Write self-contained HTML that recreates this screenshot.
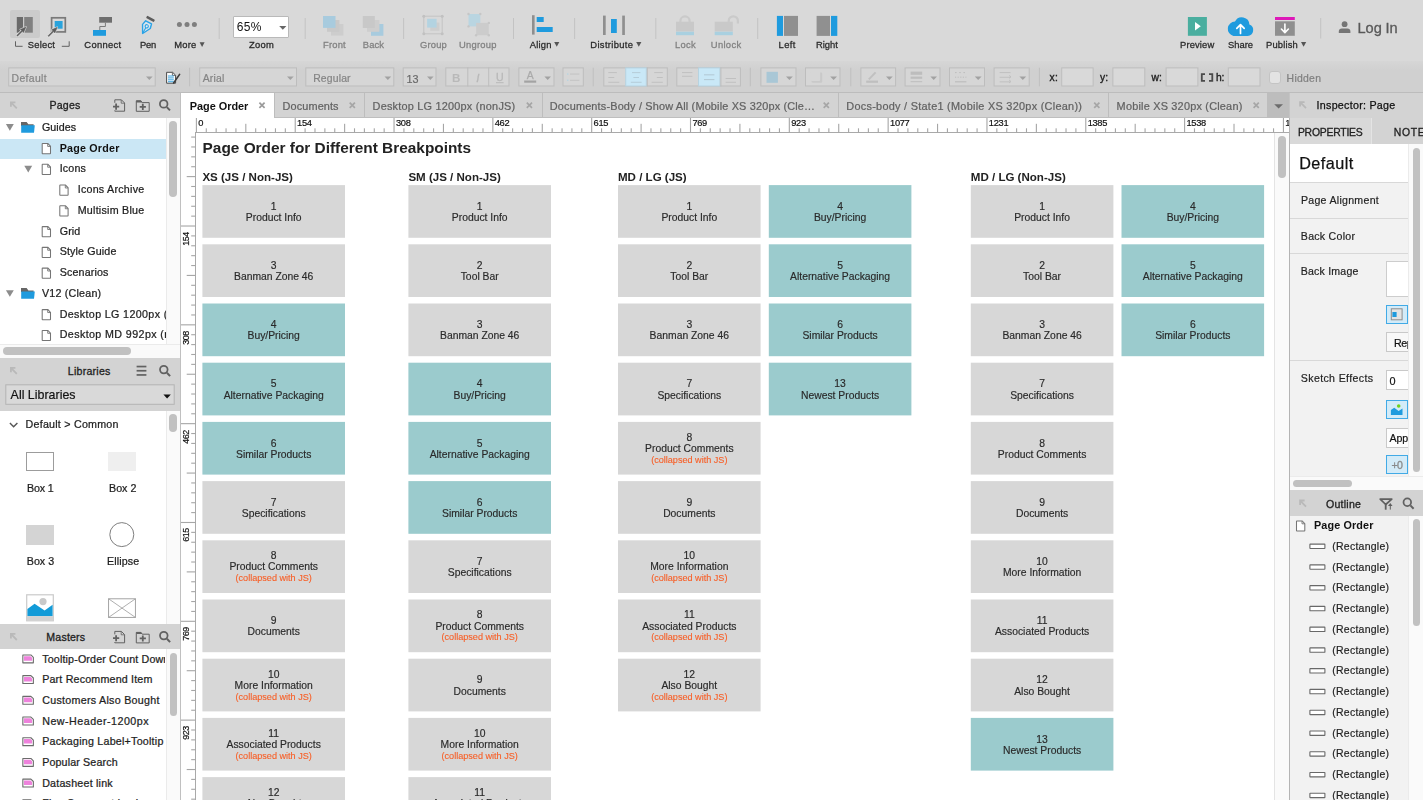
<!DOCTYPE html>
<html><head><meta charset="utf-8"><title>Axure RP</title>
<style>
html,body{margin:0;padding:0;}
body{filter:blur(0.4px);width:1423px;height:800px;overflow:hidden;background:#fff;font-family:"Liberation Sans",sans-serif;position:relative;}
#app{position:absolute;left:0;top:0;width:1423px;height:800px;overflow:hidden;}
#app div{position:absolute;box-sizing:border-box;}
#ov{position:absolute;left:0;top:0;width:1423px;height:800px;pointer-events:none;}
</style></head><body>
<div id="app">
<div style="left:0.00px;top:0.00px;width:1423.00px;height:62.00px;background:#d9d9d9;"></div>
<div style="left:0.00px;top:61.00px;width:1423.00px;height:31.50px;background:#d1d1d1;background:linear-gradient(#d6d6d6,#d0d0d0 30%,#d0d0d0);"></div>
<div style="left:0.00px;top:92.00px;width:1423.00px;height:1.00px;background:#bcbcbc;"></div>
<div style="left:0.00px;top:93.00px;width:1423.00px;height:24.50px;background:#d3d3d3;"></div>
<div style="left:0.00px;top:117.50px;width:180.00px;height:682.50px;background:#fff;"></div>
<div style="left:180.00px;top:93.00px;width:1.00px;height:707.00px;background:#c0c0c0;"></div>
<div style="left:1290.50px;top:117.50px;width:133.00px;height:682.50px;background:#f1f1f1;"></div>
<div style="left:181.00px;top:117.50px;width:1108.50px;height:682.50px;background:#fff;"></div>
<div style="left:196.00px;top:132.30px;width:1093.50px;height:0.90px;background:#a9a9a9;"></div>
<div style="left:195.00px;top:132.30px;width:1.00px;height:667.70px;background:#a9a9a9;"></div>
<div style="top:112.60px;height:20px;line-height:20px;font-size:9.3px;color:#111;white-space:pre;left:198.30px;letter-spacing:-0.32px;-webkit-text-stroke:0.2px #111;">0</div>
<div style="top:112.60px;height:20px;line-height:20px;font-size:9.3px;color:#111;white-space:pre;left:297.12px;letter-spacing:-0.32px;-webkit-text-stroke:0.2px #111;">154</div>
<div style="top:112.60px;height:20px;line-height:20px;font-size:9.3px;color:#111;white-space:pre;left:395.94px;letter-spacing:-0.32px;-webkit-text-stroke:0.2px #111;">308</div>
<div style="top:112.60px;height:20px;line-height:20px;font-size:9.3px;color:#111;white-space:pre;left:494.76px;letter-spacing:-0.32px;-webkit-text-stroke:0.2px #111;">462</div>
<div style="top:112.60px;height:20px;line-height:20px;font-size:9.3px;color:#111;white-space:pre;left:593.58px;letter-spacing:-0.32px;-webkit-text-stroke:0.2px #111;">615</div>
<div style="top:112.60px;height:20px;line-height:20px;font-size:9.3px;color:#111;white-space:pre;left:692.40px;letter-spacing:-0.32px;-webkit-text-stroke:0.2px #111;">769</div>
<div style="top:112.60px;height:20px;line-height:20px;font-size:9.3px;color:#111;white-space:pre;left:791.22px;letter-spacing:-0.32px;-webkit-text-stroke:0.2px #111;">923</div>
<div style="top:112.60px;height:20px;line-height:20px;font-size:9.3px;color:#111;white-space:pre;left:890.04px;letter-spacing:-0.32px;-webkit-text-stroke:0.2px #111;">1077</div>
<div style="top:112.60px;height:20px;line-height:20px;font-size:9.3px;color:#111;white-space:pre;left:988.86px;letter-spacing:-0.32px;-webkit-text-stroke:0.2px #111;">1231</div>
<div style="top:112.60px;height:20px;line-height:20px;font-size:9.3px;color:#111;white-space:pre;left:1087.68px;letter-spacing:-0.32px;-webkit-text-stroke:0.2px #111;">1385</div>
<div style="top:112.60px;height:20px;line-height:20px;font-size:9.3px;color:#111;white-space:pre;left:1186.50px;letter-spacing:-0.32px;-webkit-text-stroke:0.2px #111;">1538</div>
<div style="top:112.60px;height:20px;line-height:20px;font-size:9.3px;color:#111;white-space:pre;left:1285.32px;letter-spacing:-0.32px;-webkit-text-stroke:0.2px #111;">1</div>
<div style="left:165.70px;top:228.88px;width:40px;height:20px;line-height:20px;text-align:center;font-size:9.0px;letter-spacing:-0.5px;-webkit-text-stroke:0.2px #111;color:#111;transform:rotate(-90deg);white-space:pre;">154</div>
<div style="left:165.70px;top:327.70px;width:40px;height:20px;line-height:20px;text-align:center;font-size:9.0px;letter-spacing:-0.5px;-webkit-text-stroke:0.2px #111;color:#111;transform:rotate(-90deg);white-space:pre;">308</div>
<div style="left:165.70px;top:426.52px;width:40px;height:20px;line-height:20px;text-align:center;font-size:9.0px;letter-spacing:-0.5px;-webkit-text-stroke:0.2px #111;color:#111;transform:rotate(-90deg);white-space:pre;">462</div>
<div style="left:165.70px;top:525.34px;width:40px;height:20px;line-height:20px;text-align:center;font-size:9.0px;letter-spacing:-0.5px;-webkit-text-stroke:0.2px #111;color:#111;transform:rotate(-90deg);white-space:pre;">615</div>
<div style="left:165.70px;top:624.16px;width:40px;height:20px;line-height:20px;text-align:center;font-size:9.0px;letter-spacing:-0.5px;-webkit-text-stroke:0.2px #111;color:#111;transform:rotate(-90deg);white-space:pre;">769</div>
<div style="left:165.70px;top:722.98px;width:40px;height:20px;line-height:20px;text-align:center;font-size:9.0px;letter-spacing:-0.5px;-webkit-text-stroke:0.2px #111;color:#111;transform:rotate(-90deg);white-space:pre;">923</div>
<div style="top:138.00px;height:20px;line-height:20px;font-size:15.4px;color:#222;white-space:pre;letter-spacing:-0.003px;font-weight:bold;left:202.60px;">Page Order for Different Breakpoints</div>
<div style="top:167.20px;height:20px;line-height:20px;font-size:11.55px;color:#222;white-space:pre;font-weight:bold;left:202.40px;">XS (JS / Non-JS)</div>
<div style="top:167.20px;height:20px;line-height:20px;font-size:11.55px;color:#222;white-space:pre;font-weight:bold;left:408.40px;">SM (JS / Non-JS)</div>
<div style="top:167.20px;height:20px;line-height:20px;font-size:11.55px;color:#222;white-space:pre;font-weight:bold;left:618.00px;">MD / LG (JS)</div>
<div style="top:167.20px;height:20px;line-height:20px;font-size:11.55px;color:#222;white-space:pre;font-weight:bold;left:970.80px;">MD / LG (Non-JS)</div>
<svg style="position:absolute;left:0;top:0" width="1423" height="800" viewBox="0 0 1423 800"><rect x="202.40" y="185.10" width="142.6" height="52.7" fill="#d7d7d7"/><rect x="202.40" y="244.30" width="142.6" height="52.7" fill="#d7d7d7"/><rect x="202.40" y="303.50" width="142.6" height="52.7" fill="#9bcbcd"/><rect x="202.40" y="362.70" width="142.6" height="52.7" fill="#9bcbcd"/><rect x="202.40" y="421.90" width="142.6" height="52.7" fill="#9bcbcd"/><rect x="202.40" y="481.10" width="142.6" height="52.7" fill="#d7d7d7"/><rect x="202.40" y="540.30" width="142.6" height="52.7" fill="#d7d7d7"/><rect x="202.40" y="599.50" width="142.6" height="52.7" fill="#d7d7d7"/><rect x="202.40" y="658.70" width="142.6" height="52.7" fill="#d7d7d7"/><rect x="202.40" y="717.90" width="142.6" height="52.7" fill="#d7d7d7"/><rect x="202.40" y="777.10" width="142.6" height="52.7" fill="#d7d7d7"/><rect x="408.40" y="185.10" width="142.6" height="52.7" fill="#d7d7d7"/><rect x="408.40" y="244.30" width="142.6" height="52.7" fill="#d7d7d7"/><rect x="408.40" y="303.50" width="142.6" height="52.7" fill="#d7d7d7"/><rect x="408.40" y="362.70" width="142.6" height="52.7" fill="#9bcbcd"/><rect x="408.40" y="421.90" width="142.6" height="52.7" fill="#9bcbcd"/><rect x="408.40" y="481.10" width="142.6" height="52.7" fill="#9bcbcd"/><rect x="408.40" y="540.30" width="142.6" height="52.7" fill="#d7d7d7"/><rect x="408.40" y="599.50" width="142.6" height="52.7" fill="#d7d7d7"/><rect x="408.40" y="658.70" width="142.6" height="52.7" fill="#d7d7d7"/><rect x="408.40" y="717.90" width="142.6" height="52.7" fill="#d7d7d7"/><rect x="408.40" y="777.10" width="142.6" height="52.7" fill="#d7d7d7"/><rect x="618.00" y="185.10" width="142.6" height="52.7" fill="#d7d7d7"/><rect x="618.00" y="244.30" width="142.6" height="52.7" fill="#d7d7d7"/><rect x="618.00" y="303.50" width="142.6" height="52.7" fill="#d7d7d7"/><rect x="618.00" y="362.70" width="142.6" height="52.7" fill="#d7d7d7"/><rect x="618.00" y="421.90" width="142.6" height="52.7" fill="#d7d7d7"/><rect x="618.00" y="481.10" width="142.6" height="52.7" fill="#d7d7d7"/><rect x="618.00" y="540.30" width="142.6" height="52.7" fill="#d7d7d7"/><rect x="618.00" y="599.50" width="142.6" height="52.7" fill="#d7d7d7"/><rect x="618.00" y="658.70" width="142.6" height="52.7" fill="#d7d7d7"/><rect x="768.80" y="185.10" width="142.6" height="52.7" fill="#9bcbcd"/><rect x="768.80" y="244.30" width="142.6" height="52.7" fill="#9bcbcd"/><rect x="768.80" y="303.50" width="142.6" height="52.7" fill="#9bcbcd"/><rect x="768.80" y="362.70" width="142.6" height="52.7" fill="#9bcbcd"/><rect x="970.80" y="185.10" width="142.6" height="52.7" fill="#d7d7d7"/><rect x="970.80" y="244.30" width="142.6" height="52.7" fill="#d7d7d7"/><rect x="970.80" y="303.50" width="142.6" height="52.7" fill="#d7d7d7"/><rect x="970.80" y="362.70" width="142.6" height="52.7" fill="#d7d7d7"/><rect x="970.80" y="421.90" width="142.6" height="52.7" fill="#d7d7d7"/><rect x="970.80" y="481.10" width="142.6" height="52.7" fill="#d7d7d7"/><rect x="970.80" y="540.30" width="142.6" height="52.7" fill="#d7d7d7"/><rect x="970.80" y="599.50" width="142.6" height="52.7" fill="#d7d7d7"/><rect x="970.80" y="658.70" width="142.6" height="52.7" fill="#d7d7d7"/><rect x="970.80" y="717.90" width="142.6" height="52.7" fill="#9bcbcd"/><rect x="1121.50" y="185.10" width="142.6" height="52.7" fill="#9bcbcd"/><rect x="1121.50" y="244.30" width="142.6" height="52.7" fill="#9bcbcd"/><rect x="1121.50" y="303.50" width="142.6" height="52.7" fill="#9bcbcd"/></svg>
<div style="top:196.85px;height:20px;line-height:20px;font-size:10.35px;color:#2a2a2a;white-space:pre;left:123.70px;width:300px;text-align:center;-webkit-text-stroke:0.16px #2a2a2a;">1</div>
<div style="top:208.05px;height:20px;line-height:20px;font-size:10.35px;color:#2a2a2a;white-space:pre;left:123.70px;width:300px;text-align:center;-webkit-text-stroke:0.16px #2a2a2a;">Product Info</div>
<div style="top:256.05px;height:20px;line-height:20px;font-size:10.35px;color:#2a2a2a;white-space:pre;left:123.70px;width:300px;text-align:center;-webkit-text-stroke:0.16px #2a2a2a;">3</div>
<div style="top:267.25px;height:20px;line-height:20px;font-size:10.35px;color:#2a2a2a;white-space:pre;left:123.70px;width:300px;text-align:center;-webkit-text-stroke:0.16px #2a2a2a;">Banman Zone 46</div>
<div style="top:315.25px;height:20px;line-height:20px;font-size:10.35px;color:#2a2a2a;white-space:pre;left:123.70px;width:300px;text-align:center;-webkit-text-stroke:0.16px #2a2a2a;">4</div>
<div style="top:326.45px;height:20px;line-height:20px;font-size:10.35px;color:#2a2a2a;white-space:pre;left:123.70px;width:300px;text-align:center;-webkit-text-stroke:0.16px #2a2a2a;">Buy/Pricing</div>
<div style="top:374.45px;height:20px;line-height:20px;font-size:10.35px;color:#2a2a2a;white-space:pre;left:123.70px;width:300px;text-align:center;-webkit-text-stroke:0.16px #2a2a2a;">5</div>
<div style="top:385.65px;height:20px;line-height:20px;font-size:10.35px;color:#2a2a2a;white-space:pre;left:123.70px;width:300px;text-align:center;-webkit-text-stroke:0.16px #2a2a2a;">Alternative Packaging</div>
<div style="top:433.65px;height:20px;line-height:20px;font-size:10.35px;color:#2a2a2a;white-space:pre;left:123.70px;width:300px;text-align:center;-webkit-text-stroke:0.16px #2a2a2a;">6</div>
<div style="top:444.85px;height:20px;line-height:20px;font-size:10.35px;color:#2a2a2a;white-space:pre;left:123.70px;width:300px;text-align:center;-webkit-text-stroke:0.16px #2a2a2a;">Similar Products</div>
<div style="top:492.85px;height:20px;line-height:20px;font-size:10.35px;color:#2a2a2a;white-space:pre;left:123.70px;width:300px;text-align:center;-webkit-text-stroke:0.16px #2a2a2a;">7</div>
<div style="top:504.05px;height:20px;line-height:20px;font-size:10.35px;color:#2a2a2a;white-space:pre;left:123.70px;width:300px;text-align:center;-webkit-text-stroke:0.16px #2a2a2a;">Specifications</div>
<div style="top:546.25px;height:20px;line-height:20px;font-size:10.35px;color:#2a2a2a;white-space:pre;left:123.70px;width:300px;text-align:center;-webkit-text-stroke:0.16px #2a2a2a;">8</div>
<div style="top:557.35px;height:20px;line-height:20px;font-size:10.35px;color:#2a2a2a;white-space:pre;left:123.70px;width:300px;text-align:center;-webkit-text-stroke:0.16px #2a2a2a;">Product Comments</div>
<div style="top:568.15px;height:20px;line-height:20px;font-size:9.1px;color:#f85f27;white-space:pre;left:123.70px;width:300px;text-align:center;-webkit-text-stroke:0.12px #f85f27;">(collapsed with JS)</div>
<div style="top:611.25px;height:20px;line-height:20px;font-size:10.35px;color:#2a2a2a;white-space:pre;left:123.70px;width:300px;text-align:center;-webkit-text-stroke:0.16px #2a2a2a;">9</div>
<div style="top:622.45px;height:20px;line-height:20px;font-size:10.35px;color:#2a2a2a;white-space:pre;left:123.70px;width:300px;text-align:center;-webkit-text-stroke:0.16px #2a2a2a;">Documents</div>
<div style="top:664.65px;height:20px;line-height:20px;font-size:10.35px;color:#2a2a2a;white-space:pre;left:123.70px;width:300px;text-align:center;-webkit-text-stroke:0.16px #2a2a2a;">10</div>
<div style="top:675.75px;height:20px;line-height:20px;font-size:10.35px;color:#2a2a2a;white-space:pre;left:123.70px;width:300px;text-align:center;-webkit-text-stroke:0.16px #2a2a2a;">More Information</div>
<div style="top:686.55px;height:20px;line-height:20px;font-size:9.1px;color:#f85f27;white-space:pre;left:123.70px;width:300px;text-align:center;-webkit-text-stroke:0.12px #f85f27;">(collapsed with JS)</div>
<div style="top:723.85px;height:20px;line-height:20px;font-size:10.35px;color:#2a2a2a;white-space:pre;left:123.70px;width:300px;text-align:center;-webkit-text-stroke:0.16px #2a2a2a;">11</div>
<div style="top:734.95px;height:20px;line-height:20px;font-size:10.35px;color:#2a2a2a;white-space:pre;left:123.70px;width:300px;text-align:center;-webkit-text-stroke:0.16px #2a2a2a;">Associated Products</div>
<div style="top:745.75px;height:20px;line-height:20px;font-size:9.1px;color:#f85f27;white-space:pre;left:123.70px;width:300px;text-align:center;-webkit-text-stroke:0.12px #f85f27;">(collapsed with JS)</div>
<div style="top:783.05px;height:20px;line-height:20px;font-size:10.35px;color:#2a2a2a;white-space:pre;left:123.70px;width:300px;text-align:center;-webkit-text-stroke:0.16px #2a2a2a;">12</div>
<div style="top:794.15px;height:20px;line-height:20px;font-size:10.35px;color:#2a2a2a;white-space:pre;left:123.70px;width:300px;text-align:center;-webkit-text-stroke:0.16px #2a2a2a;">Also Bought</div>
<div style="top:804.95px;height:20px;line-height:20px;font-size:9.1px;color:#f85f27;white-space:pre;left:123.70px;width:300px;text-align:center;-webkit-text-stroke:0.12px #f85f27;">(collapsed with JS)</div>
<div style="top:196.85px;height:20px;line-height:20px;font-size:10.35px;color:#2a2a2a;white-space:pre;left:329.70px;width:300px;text-align:center;-webkit-text-stroke:0.16px #2a2a2a;">1</div>
<div style="top:208.05px;height:20px;line-height:20px;font-size:10.35px;color:#2a2a2a;white-space:pre;left:329.70px;width:300px;text-align:center;-webkit-text-stroke:0.16px #2a2a2a;">Product Info</div>
<div style="top:256.05px;height:20px;line-height:20px;font-size:10.35px;color:#2a2a2a;white-space:pre;left:329.70px;width:300px;text-align:center;-webkit-text-stroke:0.16px #2a2a2a;">2</div>
<div style="top:267.25px;height:20px;line-height:20px;font-size:10.35px;color:#2a2a2a;white-space:pre;left:329.70px;width:300px;text-align:center;-webkit-text-stroke:0.16px #2a2a2a;">Tool Bar</div>
<div style="top:315.25px;height:20px;line-height:20px;font-size:10.35px;color:#2a2a2a;white-space:pre;left:329.70px;width:300px;text-align:center;-webkit-text-stroke:0.16px #2a2a2a;">3</div>
<div style="top:326.45px;height:20px;line-height:20px;font-size:10.35px;color:#2a2a2a;white-space:pre;left:329.70px;width:300px;text-align:center;-webkit-text-stroke:0.16px #2a2a2a;">Banman Zone 46</div>
<div style="top:374.45px;height:20px;line-height:20px;font-size:10.35px;color:#2a2a2a;white-space:pre;left:329.70px;width:300px;text-align:center;-webkit-text-stroke:0.16px #2a2a2a;">4</div>
<div style="top:385.65px;height:20px;line-height:20px;font-size:10.35px;color:#2a2a2a;white-space:pre;left:329.70px;width:300px;text-align:center;-webkit-text-stroke:0.16px #2a2a2a;">Buy/Pricing</div>
<div style="top:433.65px;height:20px;line-height:20px;font-size:10.35px;color:#2a2a2a;white-space:pre;left:329.70px;width:300px;text-align:center;-webkit-text-stroke:0.16px #2a2a2a;">5</div>
<div style="top:444.85px;height:20px;line-height:20px;font-size:10.35px;color:#2a2a2a;white-space:pre;left:329.70px;width:300px;text-align:center;-webkit-text-stroke:0.16px #2a2a2a;">Alternative Packaging</div>
<div style="top:492.85px;height:20px;line-height:20px;font-size:10.35px;color:#2a2a2a;white-space:pre;left:329.70px;width:300px;text-align:center;-webkit-text-stroke:0.16px #2a2a2a;">6</div>
<div style="top:504.05px;height:20px;line-height:20px;font-size:10.35px;color:#2a2a2a;white-space:pre;left:329.70px;width:300px;text-align:center;-webkit-text-stroke:0.16px #2a2a2a;">Similar Products</div>
<div style="top:552.05px;height:20px;line-height:20px;font-size:10.35px;color:#2a2a2a;white-space:pre;left:329.70px;width:300px;text-align:center;-webkit-text-stroke:0.16px #2a2a2a;">7</div>
<div style="top:563.25px;height:20px;line-height:20px;font-size:10.35px;color:#2a2a2a;white-space:pre;left:329.70px;width:300px;text-align:center;-webkit-text-stroke:0.16px #2a2a2a;">Specifications</div>
<div style="top:605.45px;height:20px;line-height:20px;font-size:10.35px;color:#2a2a2a;white-space:pre;left:329.70px;width:300px;text-align:center;-webkit-text-stroke:0.16px #2a2a2a;">8</div>
<div style="top:616.55px;height:20px;line-height:20px;font-size:10.35px;color:#2a2a2a;white-space:pre;left:329.70px;width:300px;text-align:center;-webkit-text-stroke:0.16px #2a2a2a;">Product Comments</div>
<div style="top:627.35px;height:20px;line-height:20px;font-size:9.1px;color:#f85f27;white-space:pre;left:329.70px;width:300px;text-align:center;-webkit-text-stroke:0.12px #f85f27;">(collapsed with JS)</div>
<div style="top:670.45px;height:20px;line-height:20px;font-size:10.35px;color:#2a2a2a;white-space:pre;left:329.70px;width:300px;text-align:center;-webkit-text-stroke:0.16px #2a2a2a;">9</div>
<div style="top:681.65px;height:20px;line-height:20px;font-size:10.35px;color:#2a2a2a;white-space:pre;left:329.70px;width:300px;text-align:center;-webkit-text-stroke:0.16px #2a2a2a;">Documents</div>
<div style="top:723.85px;height:20px;line-height:20px;font-size:10.35px;color:#2a2a2a;white-space:pre;left:329.70px;width:300px;text-align:center;-webkit-text-stroke:0.16px #2a2a2a;">10</div>
<div style="top:734.95px;height:20px;line-height:20px;font-size:10.35px;color:#2a2a2a;white-space:pre;left:329.70px;width:300px;text-align:center;-webkit-text-stroke:0.16px #2a2a2a;">More Information</div>
<div style="top:745.75px;height:20px;line-height:20px;font-size:9.1px;color:#f85f27;white-space:pre;left:329.70px;width:300px;text-align:center;-webkit-text-stroke:0.12px #f85f27;">(collapsed with JS)</div>
<div style="top:783.05px;height:20px;line-height:20px;font-size:10.35px;color:#2a2a2a;white-space:pre;left:329.70px;width:300px;text-align:center;-webkit-text-stroke:0.16px #2a2a2a;">11</div>
<div style="top:794.15px;height:20px;line-height:20px;font-size:10.35px;color:#2a2a2a;white-space:pre;left:329.70px;width:300px;text-align:center;-webkit-text-stroke:0.16px #2a2a2a;">Associated Products</div>
<div style="top:804.95px;height:20px;line-height:20px;font-size:9.1px;color:#f85f27;white-space:pre;left:329.70px;width:300px;text-align:center;-webkit-text-stroke:0.12px #f85f27;">(collapsed with JS)</div>
<div style="top:196.85px;height:20px;line-height:20px;font-size:10.35px;color:#2a2a2a;white-space:pre;left:539.30px;width:300px;text-align:center;-webkit-text-stroke:0.16px #2a2a2a;">1</div>
<div style="top:208.05px;height:20px;line-height:20px;font-size:10.35px;color:#2a2a2a;white-space:pre;left:539.30px;width:300px;text-align:center;-webkit-text-stroke:0.16px #2a2a2a;">Product Info</div>
<div style="top:256.05px;height:20px;line-height:20px;font-size:10.35px;color:#2a2a2a;white-space:pre;left:539.30px;width:300px;text-align:center;-webkit-text-stroke:0.16px #2a2a2a;">2</div>
<div style="top:267.25px;height:20px;line-height:20px;font-size:10.35px;color:#2a2a2a;white-space:pre;left:539.30px;width:300px;text-align:center;-webkit-text-stroke:0.16px #2a2a2a;">Tool Bar</div>
<div style="top:315.25px;height:20px;line-height:20px;font-size:10.35px;color:#2a2a2a;white-space:pre;left:539.30px;width:300px;text-align:center;-webkit-text-stroke:0.16px #2a2a2a;">3</div>
<div style="top:326.45px;height:20px;line-height:20px;font-size:10.35px;color:#2a2a2a;white-space:pre;left:539.30px;width:300px;text-align:center;-webkit-text-stroke:0.16px #2a2a2a;">Banman Zone 46</div>
<div style="top:374.45px;height:20px;line-height:20px;font-size:10.35px;color:#2a2a2a;white-space:pre;left:539.30px;width:300px;text-align:center;-webkit-text-stroke:0.16px #2a2a2a;">7</div>
<div style="top:385.65px;height:20px;line-height:20px;font-size:10.35px;color:#2a2a2a;white-space:pre;left:539.30px;width:300px;text-align:center;-webkit-text-stroke:0.16px #2a2a2a;">Specifications</div>
<div style="top:427.85px;height:20px;line-height:20px;font-size:10.35px;color:#2a2a2a;white-space:pre;left:539.30px;width:300px;text-align:center;-webkit-text-stroke:0.16px #2a2a2a;">8</div>
<div style="top:438.95px;height:20px;line-height:20px;font-size:10.35px;color:#2a2a2a;white-space:pre;left:539.30px;width:300px;text-align:center;-webkit-text-stroke:0.16px #2a2a2a;">Product Comments</div>
<div style="top:449.75px;height:20px;line-height:20px;font-size:9.1px;color:#f85f27;white-space:pre;left:539.30px;width:300px;text-align:center;-webkit-text-stroke:0.12px #f85f27;">(collapsed with JS)</div>
<div style="top:492.85px;height:20px;line-height:20px;font-size:10.35px;color:#2a2a2a;white-space:pre;left:539.30px;width:300px;text-align:center;-webkit-text-stroke:0.16px #2a2a2a;">9</div>
<div style="top:504.05px;height:20px;line-height:20px;font-size:10.35px;color:#2a2a2a;white-space:pre;left:539.30px;width:300px;text-align:center;-webkit-text-stroke:0.16px #2a2a2a;">Documents</div>
<div style="top:546.25px;height:20px;line-height:20px;font-size:10.35px;color:#2a2a2a;white-space:pre;left:539.30px;width:300px;text-align:center;-webkit-text-stroke:0.16px #2a2a2a;">10</div>
<div style="top:557.35px;height:20px;line-height:20px;font-size:10.35px;color:#2a2a2a;white-space:pre;left:539.30px;width:300px;text-align:center;-webkit-text-stroke:0.16px #2a2a2a;">More Information</div>
<div style="top:568.15px;height:20px;line-height:20px;font-size:9.1px;color:#f85f27;white-space:pre;left:539.30px;width:300px;text-align:center;-webkit-text-stroke:0.12px #f85f27;">(collapsed with JS)</div>
<div style="top:605.45px;height:20px;line-height:20px;font-size:10.35px;color:#2a2a2a;white-space:pre;left:539.30px;width:300px;text-align:center;-webkit-text-stroke:0.16px #2a2a2a;">11</div>
<div style="top:616.55px;height:20px;line-height:20px;font-size:10.35px;color:#2a2a2a;white-space:pre;left:539.30px;width:300px;text-align:center;-webkit-text-stroke:0.16px #2a2a2a;">Associated Products</div>
<div style="top:627.35px;height:20px;line-height:20px;font-size:9.1px;color:#f85f27;white-space:pre;left:539.30px;width:300px;text-align:center;-webkit-text-stroke:0.12px #f85f27;">(collapsed with JS)</div>
<div style="top:664.65px;height:20px;line-height:20px;font-size:10.35px;color:#2a2a2a;white-space:pre;left:539.30px;width:300px;text-align:center;-webkit-text-stroke:0.16px #2a2a2a;">12</div>
<div style="top:675.75px;height:20px;line-height:20px;font-size:10.35px;color:#2a2a2a;white-space:pre;left:539.30px;width:300px;text-align:center;-webkit-text-stroke:0.16px #2a2a2a;">Also Bought</div>
<div style="top:686.55px;height:20px;line-height:20px;font-size:9.1px;color:#f85f27;white-space:pre;left:539.30px;width:300px;text-align:center;-webkit-text-stroke:0.12px #f85f27;">(collapsed with JS)</div>
<div style="top:196.85px;height:20px;line-height:20px;font-size:10.35px;color:#2a2a2a;white-space:pre;left:690.10px;width:300px;text-align:center;-webkit-text-stroke:0.16px #2a2a2a;">4</div>
<div style="top:208.05px;height:20px;line-height:20px;font-size:10.35px;color:#2a2a2a;white-space:pre;left:690.10px;width:300px;text-align:center;-webkit-text-stroke:0.16px #2a2a2a;">Buy/Pricing</div>
<div style="top:256.05px;height:20px;line-height:20px;font-size:10.35px;color:#2a2a2a;white-space:pre;left:690.10px;width:300px;text-align:center;-webkit-text-stroke:0.16px #2a2a2a;">5</div>
<div style="top:267.25px;height:20px;line-height:20px;font-size:10.35px;color:#2a2a2a;white-space:pre;left:690.10px;width:300px;text-align:center;-webkit-text-stroke:0.16px #2a2a2a;">Alternative Packaging</div>
<div style="top:315.25px;height:20px;line-height:20px;font-size:10.35px;color:#2a2a2a;white-space:pre;left:690.10px;width:300px;text-align:center;-webkit-text-stroke:0.16px #2a2a2a;">6</div>
<div style="top:326.45px;height:20px;line-height:20px;font-size:10.35px;color:#2a2a2a;white-space:pre;left:690.10px;width:300px;text-align:center;-webkit-text-stroke:0.16px #2a2a2a;">Similar Products</div>
<div style="top:374.45px;height:20px;line-height:20px;font-size:10.35px;color:#2a2a2a;white-space:pre;left:690.10px;width:300px;text-align:center;-webkit-text-stroke:0.16px #2a2a2a;">13</div>
<div style="top:385.65px;height:20px;line-height:20px;font-size:10.35px;color:#2a2a2a;white-space:pre;left:690.10px;width:300px;text-align:center;-webkit-text-stroke:0.16px #2a2a2a;">Newest Products</div>
<div style="top:196.85px;height:20px;line-height:20px;font-size:10.35px;color:#2a2a2a;white-space:pre;left:892.10px;width:300px;text-align:center;-webkit-text-stroke:0.16px #2a2a2a;">1</div>
<div style="top:208.05px;height:20px;line-height:20px;font-size:10.35px;color:#2a2a2a;white-space:pre;left:892.10px;width:300px;text-align:center;-webkit-text-stroke:0.16px #2a2a2a;">Product Info</div>
<div style="top:256.05px;height:20px;line-height:20px;font-size:10.35px;color:#2a2a2a;white-space:pre;left:892.10px;width:300px;text-align:center;-webkit-text-stroke:0.16px #2a2a2a;">2</div>
<div style="top:267.25px;height:20px;line-height:20px;font-size:10.35px;color:#2a2a2a;white-space:pre;left:892.10px;width:300px;text-align:center;-webkit-text-stroke:0.16px #2a2a2a;">Tool Bar</div>
<div style="top:315.25px;height:20px;line-height:20px;font-size:10.35px;color:#2a2a2a;white-space:pre;left:892.10px;width:300px;text-align:center;-webkit-text-stroke:0.16px #2a2a2a;">3</div>
<div style="top:326.45px;height:20px;line-height:20px;font-size:10.35px;color:#2a2a2a;white-space:pre;left:892.10px;width:300px;text-align:center;-webkit-text-stroke:0.16px #2a2a2a;">Banman Zone 46</div>
<div style="top:374.45px;height:20px;line-height:20px;font-size:10.35px;color:#2a2a2a;white-space:pre;left:892.10px;width:300px;text-align:center;-webkit-text-stroke:0.16px #2a2a2a;">7</div>
<div style="top:385.65px;height:20px;line-height:20px;font-size:10.35px;color:#2a2a2a;white-space:pre;left:892.10px;width:300px;text-align:center;-webkit-text-stroke:0.16px #2a2a2a;">Specifications</div>
<div style="top:433.65px;height:20px;line-height:20px;font-size:10.35px;color:#2a2a2a;white-space:pre;left:892.10px;width:300px;text-align:center;-webkit-text-stroke:0.16px #2a2a2a;">8</div>
<div style="top:444.85px;height:20px;line-height:20px;font-size:10.35px;color:#2a2a2a;white-space:pre;left:892.10px;width:300px;text-align:center;-webkit-text-stroke:0.16px #2a2a2a;">Product Comments</div>
<div style="top:492.85px;height:20px;line-height:20px;font-size:10.35px;color:#2a2a2a;white-space:pre;left:892.10px;width:300px;text-align:center;-webkit-text-stroke:0.16px #2a2a2a;">9</div>
<div style="top:504.05px;height:20px;line-height:20px;font-size:10.35px;color:#2a2a2a;white-space:pre;left:892.10px;width:300px;text-align:center;-webkit-text-stroke:0.16px #2a2a2a;">Documents</div>
<div style="top:552.05px;height:20px;line-height:20px;font-size:10.35px;color:#2a2a2a;white-space:pre;left:892.10px;width:300px;text-align:center;-webkit-text-stroke:0.16px #2a2a2a;">10</div>
<div style="top:563.25px;height:20px;line-height:20px;font-size:10.35px;color:#2a2a2a;white-space:pre;left:892.10px;width:300px;text-align:center;-webkit-text-stroke:0.16px #2a2a2a;">More Information</div>
<div style="top:611.25px;height:20px;line-height:20px;font-size:10.35px;color:#2a2a2a;white-space:pre;left:892.10px;width:300px;text-align:center;-webkit-text-stroke:0.16px #2a2a2a;">11</div>
<div style="top:622.45px;height:20px;line-height:20px;font-size:10.35px;color:#2a2a2a;white-space:pre;left:892.10px;width:300px;text-align:center;-webkit-text-stroke:0.16px #2a2a2a;">Associated Products</div>
<div style="top:670.45px;height:20px;line-height:20px;font-size:10.35px;color:#2a2a2a;white-space:pre;left:892.10px;width:300px;text-align:center;-webkit-text-stroke:0.16px #2a2a2a;">12</div>
<div style="top:681.65px;height:20px;line-height:20px;font-size:10.35px;color:#2a2a2a;white-space:pre;left:892.10px;width:300px;text-align:center;-webkit-text-stroke:0.16px #2a2a2a;">Also Bought</div>
<div style="top:729.65px;height:20px;line-height:20px;font-size:10.35px;color:#2a2a2a;white-space:pre;left:892.10px;width:300px;text-align:center;-webkit-text-stroke:0.16px #2a2a2a;">13</div>
<div style="top:740.85px;height:20px;line-height:20px;font-size:10.35px;color:#2a2a2a;white-space:pre;left:892.10px;width:300px;text-align:center;-webkit-text-stroke:0.16px #2a2a2a;">Newest Products</div>
<div style="top:196.85px;height:20px;line-height:20px;font-size:10.35px;color:#2a2a2a;white-space:pre;left:1042.80px;width:300px;text-align:center;-webkit-text-stroke:0.16px #2a2a2a;">4</div>
<div style="top:208.05px;height:20px;line-height:20px;font-size:10.35px;color:#2a2a2a;white-space:pre;left:1042.80px;width:300px;text-align:center;-webkit-text-stroke:0.16px #2a2a2a;">Buy/Pricing</div>
<div style="top:256.05px;height:20px;line-height:20px;font-size:10.35px;color:#2a2a2a;white-space:pre;left:1042.80px;width:300px;text-align:center;-webkit-text-stroke:0.16px #2a2a2a;">5</div>
<div style="top:267.25px;height:20px;line-height:20px;font-size:10.35px;color:#2a2a2a;white-space:pre;left:1042.80px;width:300px;text-align:center;-webkit-text-stroke:0.16px #2a2a2a;">Alternative Packaging</div>
<div style="top:315.25px;height:20px;line-height:20px;font-size:10.35px;color:#2a2a2a;white-space:pre;left:1042.80px;width:300px;text-align:center;-webkit-text-stroke:0.16px #2a2a2a;">6</div>
<div style="top:326.45px;height:20px;line-height:20px;font-size:10.35px;color:#2a2a2a;white-space:pre;left:1042.80px;width:300px;text-align:center;-webkit-text-stroke:0.16px #2a2a2a;">Similar Products</div>
<div style="left:1274.30px;top:133.20px;width:15.20px;height:666.80px;background:#fafafa;border-left:1px solid #e4e4e4;"></div>
<div style="left:1278.00px;top:136.00px;width:7.50px;height:42.00px;background:#c1c1c1;border-radius:4px;"></div>
<div style="left:10.30px;top:10.00px;width:29.50px;height:27.60px;background:#cbcbcb;border-radius:2px;"></div>
<div style="top:34.50px;height:20px;line-height:20px;font-size:9.4px;color:#2b2b2b;white-space:pre;letter-spacing:0.212px;left:27.80px;-webkit-text-stroke:0.28px #2b2b2b;">Select</div>
<div style="top:34.50px;height:20px;line-height:20px;font-size:9.4px;color:#2b2b2b;white-space:pre;letter-spacing:0.327px;left:84.30px;-webkit-text-stroke:0.28px #2b2b2b;">Connect</div>
<div style="top:34.50px;height:20px;line-height:20px;font-size:9.4px;color:#2b2b2b;white-space:pre;letter-spacing:-0.209px;left:139.90px;-webkit-text-stroke:0.28px #2b2b2b;">Pen</div>
<div style="top:34.50px;height:20px;line-height:20px;font-size:9.4px;color:#2b2b2b;white-space:pre;letter-spacing:0.196px;left:174.30px;-webkit-text-stroke:0.28px #2b2b2b;">More</div>
<div style="left:233.40px;top:16.40px;width:56.00px;height:21.20px;background:#fff;border:1px solid #b9b9b9;border-radius:1px;"></div>
<div style="top:16.60px;height:20px;line-height:20px;font-size:12px;color:#111;white-space:pre;letter-spacing:0.361px;left:236.70px;">65%</div>
<div style="top:34.50px;height:20px;line-height:20px;font-size:9.4px;color:#2b2b2b;white-space:pre;letter-spacing:0.243px;left:249.00px;-webkit-text-stroke:0.28px #2b2b2b;">Zoom</div>
<div style="top:34.50px;height:20px;line-height:20px;font-size:9.4px;color:#828282;white-space:pre;letter-spacing:0.212px;left:323.00px;-webkit-text-stroke:0.28px #828282;">Front</div>
<div style="top:34.50px;height:20px;line-height:20px;font-size:9.4px;color:#828282;white-space:pre;letter-spacing:0.126px;left:362.80px;-webkit-text-stroke:0.28px #828282;">Back</div>
<div style="top:34.50px;height:20px;line-height:20px;font-size:9.4px;color:#828282;white-space:pre;letter-spacing:0.175px;left:420.00px;-webkit-text-stroke:0.28px #828282;">Group</div>
<div style="top:34.50px;height:20px;line-height:20px;font-size:9.4px;color:#828282;white-space:pre;letter-spacing:0.263px;left:459.00px;-webkit-text-stroke:0.28px #828282;">Ungroup</div>
<div style="top:34.50px;height:20px;line-height:20px;font-size:9.4px;color:#2b2b2b;white-space:pre;letter-spacing:0.240px;left:529.70px;-webkit-text-stroke:0.28px #2b2b2b;">Align</div>
<div style="top:34.50px;height:20px;line-height:20px;font-size:9.4px;color:#2b2b2b;white-space:pre;letter-spacing:0.350px;left:590.30px;-webkit-text-stroke:0.28px #2b2b2b;">Distribute</div>
<div style="top:34.50px;height:20px;line-height:20px;font-size:9.4px;color:#828282;white-space:pre;letter-spacing:0.261px;left:675.00px;-webkit-text-stroke:0.28px #828282;">Lock</div>
<div style="top:34.50px;height:20px;line-height:20px;font-size:9.4px;color:#828282;white-space:pre;letter-spacing:0.328px;left:710.80px;-webkit-text-stroke:0.28px #828282;">Unlock</div>
<div style="top:34.50px;height:20px;line-height:20px;font-size:9.4px;color:#2b2b2b;white-space:pre;letter-spacing:0.380px;left:778.60px;-webkit-text-stroke:0.28px #2b2b2b;">Left</div>
<div style="top:34.50px;height:20px;line-height:20px;font-size:9.4px;color:#2b2b2b;white-space:pre;letter-spacing:0.031px;left:815.90px;-webkit-text-stroke:0.28px #2b2b2b;">Right</div>
<div style="top:34.50px;height:20px;line-height:20px;font-size:9.4px;color:#2b2b2b;white-space:pre;letter-spacing:0.138px;left:1180.00px;-webkit-text-stroke:0.28px #2b2b2b;">Preview</div>
<div style="top:34.50px;height:20px;line-height:20px;font-size:9.4px;color:#2b2b2b;white-space:pre;letter-spacing:-0.017px;left:1228.00px;-webkit-text-stroke:0.28px #2b2b2b;">Share</div>
<div style="top:34.50px;height:20px;line-height:20px;font-size:9.4px;color:#2b2b2b;white-space:pre;letter-spacing:0.167px;left:1266.00px;-webkit-text-stroke:0.28px #2b2b2b;">Publish</div>
<div style="top:17.90px;height:20px;line-height:20px;font-size:14.6px;color:#595959;white-space:pre;letter-spacing:-0.099px;left:1357.60px;-webkit-text-stroke:0.3px #595959;">Log In</div>
<svg style="position:absolute;left:0;top:0;overflow:visible" width="1" height="1"><rect x="8.70" y="67.90" width="146.50" height="18.10" fill="#d6d6d6" stroke="#bdbdbd" stroke-width="1"/></svg>
<div style="top:68.50px;height:20px;line-height:20px;font-size:10.4px;color:#848484;white-space:pre;letter-spacing:0.335px;left:11.60px;-webkit-text-stroke:0.2px #848484;">Default</div>
<svg style="position:absolute;left:0;top:0;overflow:visible" width="1" height="1"><rect x="199.70" y="67.90" width="96.80" height="18.10" fill="#d6d6d6" stroke="#bdbdbd" stroke-width="1"/></svg>
<div style="top:68.50px;height:20px;line-height:20px;font-size:10.4px;color:#848484;white-space:pre;letter-spacing:0.219px;left:202.70px;-webkit-text-stroke:0.2px #848484;">Arial</div>
<svg style="position:absolute;left:0;top:0;overflow:visible" width="1" height="1"><rect x="305.80" y="67.90" width="88.00" height="18.10" fill="#d6d6d6" stroke="#bdbdbd" stroke-width="1"/></svg>
<div style="top:68.50px;height:20px;line-height:20px;font-size:10.4px;color:#848484;white-space:pre;letter-spacing:0.168px;left:313.20px;-webkit-text-stroke:0.2px #848484;">Regular</div>
<svg style="position:absolute;left:0;top:0;overflow:visible" width="1" height="1"><rect x="403.20" y="67.90" width="32.80" height="18.10" fill="#d6d6d6" stroke="#bdbdbd" stroke-width="1"/></svg>
<div style="top:68.50px;height:20px;line-height:20px;font-size:10.8px;color:#6a6a6a;white-space:pre;letter-spacing:-0.206px;left:406.60px;-webkit-text-stroke:0.2px #6a6a6a;">13</div>
<svg style="position:absolute;left:0;top:0;overflow:visible" width="1" height="1"><rect x="445.80" y="67.90" width="63.20" height="18.10" fill="#d6d6d6" stroke="#bdbdbd" stroke-width="1"/></svg>
<svg style="position:absolute;left:0;top:0;overflow:visible" width="1" height="1"><rect x="467.30" y="67.40" width="1.00" height="19.10" fill="#bdbdbd"/></svg>
<svg style="position:absolute;left:0;top:0;overflow:visible" width="1" height="1"><rect x="488.20" y="67.40" width="1.00" height="19.10" fill="#bdbdbd"/></svg>
<div style="top:67.90px;height:20px;line-height:20px;font-size:11.6px;color:#b9b9b9;white-space:pre;font-weight:bold;left:306.20px;width:300px;text-align:center;">B</div>
<div style="top:67.90px;height:20px;line-height:20px;font-size:11.6px;color:#b9b9b9;white-space:pre;left:327.80px;width:300px;text-align:center;font-style:italic;-webkit-text-stroke:0.3px #b9b9b9;">I</div>
<div style="top:67.10px;height:20px;line-height:20px;font-size:10.6px;color:#b9b9b9;white-space:pre;left:349.80px;width:300px;text-align:center;-webkit-text-stroke:0.3px #b9b9b9;">U</div>
<svg style="position:absolute;left:0;top:0;overflow:visible" width="1" height="1"><rect x="518.90" y="67.90" width="35.10" height="18.10" fill="#d6d6d6" stroke="#bdbdbd" stroke-width="1"/></svg>
<div style="top:65.90px;height:20px;line-height:20px;font-size:10.4px;color:#aaa;white-space:pre;left:380.20px;width:300px;text-align:center;-webkit-text-stroke:0.25px #aaa;">A</div>
<svg style="position:absolute;left:0;top:0;overflow:visible" width="1" height="1"><rect x="563.00" y="67.90" width="20.30" height="18.10" fill="#d6d6d6" stroke="#bdbdbd" stroke-width="1"/></svg>
<svg style="position:absolute;left:0;top:0;overflow:visible" width="1" height="1"><rect x="603.80" y="67.90" width="63.50" height="18.10" fill="#d6d6d6" stroke="#bdbdbd" stroke-width="1"/></svg>
<svg style="position:absolute;left:0;top:0;overflow:visible" width="1" height="1"><rect x="625.70" y="67.90" width="20.60" height="18.10" fill="#c9e8f7" stroke="#b7d3e0" stroke-width="1"/></svg>
<svg style="position:absolute;left:0;top:0;overflow:visible" width="1" height="1"><rect x="646.80" y="67.40" width="1.00" height="19.10" fill="#bdbdbd"/></svg>
<svg style="position:absolute;left:0;top:0;overflow:visible" width="1" height="1"><rect x="676.80" y="67.90" width="63.60" height="18.10" fill="#d6d6d6" stroke="#bdbdbd" stroke-width="1"/></svg>
<svg style="position:absolute;left:0;top:0;overflow:visible" width="1" height="1"><rect x="698.50" y="67.90" width="21.40" height="18.10" fill="#c9e8f7" stroke="#b7d3e0" stroke-width="1"/></svg>
<svg style="position:absolute;left:0;top:0;overflow:visible" width="1" height="1"><rect x="720.40" y="67.40" width="1.00" height="19.10" fill="#bdbdbd"/></svg>
<svg style="position:absolute;left:0;top:0;overflow:visible" width="1" height="1"><rect x="760.90" y="67.90" width="35.10" height="18.10" fill="#d6d6d6" stroke="#bdbdbd" stroke-width="1"/></svg>
<svg style="position:absolute;left:0;top:0;overflow:visible" width="1" height="1"><rect x="805.50" y="67.90" width="34.50" height="18.10" fill="#d6d6d6" stroke="#bdbdbd" stroke-width="1"/></svg>
<svg style="position:absolute;left:0;top:0;overflow:visible" width="1" height="1"><rect x="860.90" y="67.90" width="34.70" height="18.10" fill="#d6d6d6" stroke="#bdbdbd" stroke-width="1"/></svg>
<svg style="position:absolute;left:0;top:0;overflow:visible" width="1" height="1"><rect x="905.10" y="67.90" width="34.90" height="18.10" fill="#d6d6d6" stroke="#bdbdbd" stroke-width="1"/></svg>
<svg style="position:absolute;left:0;top:0;overflow:visible" width="1" height="1"><rect x="949.50" y="67.90" width="35.00" height="18.10" fill="#d6d6d6" stroke="#bdbdbd" stroke-width="1"/></svg>
<svg style="position:absolute;left:0;top:0;overflow:visible" width="1" height="1"><rect x="994.10" y="67.90" width="35.10" height="18.10" fill="#d6d6d6" stroke="#bdbdbd" stroke-width="1"/></svg>
<div style="top:68.10px;height:20px;line-height:20px;font-size:10.3px;color:#222;white-space:pre;letter-spacing:0.144px;left:1049.60px;-webkit-text-stroke:0.35px #222;">x:</div>
<svg style="position:absolute;left:0;top:0;overflow:visible" width="1" height="1"><rect x="1061.70" y="67.90" width="31.40" height="18.10" fill="#d9d9d9" stroke="#bdbdbd" stroke-width="1"/></svg>
<div style="top:68.10px;height:20px;line-height:20px;font-size:10.3px;color:#222;white-space:pre;letter-spacing:0.194px;left:1100.00px;-webkit-text-stroke:0.35px #222;">y:</div>
<svg style="position:absolute;left:0;top:0;overflow:visible" width="1" height="1"><rect x="1112.90" y="67.90" width="31.90" height="18.10" fill="#d9d9d9" stroke="#bdbdbd" stroke-width="1"/></svg>
<div style="top:68.10px;height:20px;line-height:20px;font-size:10.3px;color:#222;white-space:pre;letter-spacing:0.100px;left:1151.40px;-webkit-text-stroke:0.35px #222;">w:</div>
<svg style="position:absolute;left:0;top:0;overflow:visible" width="1" height="1"><rect x="1166.10" y="67.90" width="31.80" height="18.10" fill="#d9d9d9" stroke="#bdbdbd" stroke-width="1"/></svg>
<div style="top:68.10px;height:20px;line-height:20px;font-size:10.3px;color:#222;white-space:pre;letter-spacing:0.005px;left:1215.90px;-webkit-text-stroke:0.35px #222;">h:</div>
<svg style="position:absolute;left:0;top:0;overflow:visible" width="1" height="1"><rect x="1228.30" y="67.90" width="31.70" height="18.10" fill="#d9d9d9" stroke="#bdbdbd" stroke-width="1"/></svg>
<div style="left:1268.60px;top:71.30px;width:12.60px;height:12.60px;background:#e3e3e3;border:1px solid #c4c4c4;border-radius:3px;"></div>
<div style="top:69.20px;height:20px;line-height:20px;font-size:10.4px;color:#808080;white-space:pre;letter-spacing:0.290px;left:1286.60px;-webkit-text-stroke:0.22px #808080;">Hidden</div>
<div style="left:181.00px;top:93.00px;width:92.80px;height:25.00px;background:#fff;"></div>
<div style="top:96.00px;height:20px;line-height:20px;font-size:10.9px;color:#111;white-space:pre;letter-spacing:-0.006px;font-weight:bold;left:189.70px;">Page Order</div>
<div style="left:273.80px;top:93.00px;width:1.00px;height:24.50px;background:#bdbdbd;"></div>
<div style="top:96.00px;height:20px;line-height:20px;font-size:10.9px;color:#626262;white-space:pre;letter-spacing:0.108px;left:282.60px;-webkit-text-stroke:0.22px #626262;">Documents</div>
<div style="left:364.00px;top:93.00px;width:1.00px;height:24.50px;background:#bdbdbd;"></div>
<div style="top:96.00px;height:20px;line-height:20px;font-size:10.9px;color:#626262;white-space:pre;letter-spacing:0.214px;left:372.60px;-webkit-text-stroke:0.22px #626262;">Desktop LG 1200px (nonJS)</div>
<div style="left:542.00px;top:93.00px;width:1.00px;height:24.50px;background:#bdbdbd;"></div>
<div style="top:96.00px;height:20px;line-height:20px;font-size:10.9px;color:#626262;white-space:pre;letter-spacing:0.169px;left:549.80px;-webkit-text-stroke:0.22px #626262;">Documents-Body / Show All (Mobile XS 320px (Cle…</div>
<div style="left:837.60px;top:93.00px;width:1.00px;height:24.50px;background:#bdbdbd;"></div>
<div style="top:96.00px;height:20px;line-height:20px;font-size:10.9px;color:#626262;white-space:pre;letter-spacing:0.271px;left:846.30px;-webkit-text-stroke:0.22px #626262;">Docs-body / State1 (Mobile XS 320px (Clean))</div>
<div style="left:1108.40px;top:93.00px;width:1.00px;height:24.50px;background:#bdbdbd;"></div>
<div style="top:96.00px;height:20px;line-height:20px;font-size:10.9px;color:#626262;white-space:pre;letter-spacing:0.210px;left:1116.60px;-webkit-text-stroke:0.22px #626262;">Mobile XS 320px (Clean)</div>
<div style="left:273.80px;top:117.00px;width:1016.00px;height:0.80px;background:#bebebe;"></div>
<div style="left:1267.40px;top:93.00px;width:22.20px;height:24.50px;background:#bdbdbd;"></div>
<div style="left:0.00px;top:93.00px;width:180.00px;height:24.50px;background:#d3d3d3;"></div>
<div style="top:95.20px;height:20px;line-height:20px;font-size:10.6px;color:#222;white-space:pre;left:-85.00px;width:300px;text-align:center;letter-spacing:0.2px;-webkit-text-stroke:0.3px #222;">Pages</div>
<div style="top:95.10px;height:20px;line-height:20px;font-size:10.7px;color:#111;white-space:pre;letter-spacing:0.270px;left:1316.60px;-webkit-text-stroke:0.25px #111;">Inspector: Page</div>
<div style="left:0;top:117.5px;width:165.6px;height:226px;overflow:hidden;">
<div style="left:0.00px;top:21.50px;width:165.60px;height:20.40px;background:#cbe7f5;"></div>
<div style="top:-0.70px;height:20px;line-height:20px;font-size:10.7px;color:#1e1e1e;white-space:pre;letter-spacing:0.033px;left:42.00px;-webkit-text-stroke:0.24px #1e1e1e;">Guides</div>
<div style="top:20.06px;height:20px;line-height:20px;font-size:10.7px;color:#111;white-space:pre;letter-spacing:0.221px;font-weight:bold;left:59.70px;">Page Order</div>
<div style="top:40.82px;height:20px;line-height:20px;font-size:10.7px;color:#1e1e1e;white-space:pre;letter-spacing:0.145px;left:59.70px;-webkit-text-stroke:0.24px #1e1e1e;">Icons</div>
<div style="top:61.58px;height:20px;line-height:20px;font-size:10.7px;color:#1e1e1e;white-space:pre;letter-spacing:0.243px;left:77.70px;-webkit-text-stroke:0.24px #1e1e1e;">Icons Archive</div>
<div style="top:82.34px;height:20px;line-height:20px;font-size:10.7px;color:#1e1e1e;white-space:pre;letter-spacing:0.245px;left:77.70px;-webkit-text-stroke:0.24px #1e1e1e;">Multisim Blue</div>
<div style="top:103.10px;height:20px;line-height:20px;font-size:10.7px;color:#1e1e1e;white-space:pre;letter-spacing:0.141px;left:59.70px;-webkit-text-stroke:0.24px #1e1e1e;">Grid</div>
<div style="top:123.86px;height:20px;line-height:20px;font-size:10.7px;color:#1e1e1e;white-space:pre;letter-spacing:0.141px;left:59.70px;-webkit-text-stroke:0.24px #1e1e1e;">Style Guide</div>
<div style="top:144.62px;height:20px;line-height:20px;font-size:10.7px;color:#1e1e1e;white-space:pre;letter-spacing:0.148px;left:59.70px;-webkit-text-stroke:0.24px #1e1e1e;">Scenarios</div>
<div style="top:165.38px;height:20px;line-height:20px;font-size:10.7px;color:#1e1e1e;white-space:pre;letter-spacing:0.210px;left:42.00px;-webkit-text-stroke:0.24px #1e1e1e;">V12 (Clean)</div>
<div style="top:186.14px;height:20px;line-height:20px;font-size:10.7px;color:#1e1e1e;white-space:pre;letter-spacing:0.366px;left:59.70px;-webkit-text-stroke:0.24px #1e1e1e;">Desktop LG 1200px (nonJS)</div>
<div style="top:206.90px;height:20px;line-height:20px;font-size:10.7px;color:#1e1e1e;white-space:pre;letter-spacing:0.400px;left:59.70px;-webkit-text-stroke:0.24px #1e1e1e;">Desktop MD 992px (nonJS)</div>
</div>
<div style="left:165.60px;top:117.50px;width:14.40px;height:226.00px;background:#fafafa;border-left:1px solid #ebebeb;"></div>
<div style="left:169.40px;top:120.60px;width:7.80px;height:76.60px;background:#c1c1c1;border-radius:4px;"></div>
<div style="left:0.00px;top:343.50px;width:180.00px;height:15.00px;background:#fafafa;border-top:1px solid #ebebeb;"></div>
<div style="left:3.30px;top:347.10px;width:128.00px;height:7.60px;background:#c1c1c1;border-radius:4px;"></div>
<div style="left:0.00px;top:358.40px;width:180.00px;height:52.60px;background:#d3d3d3;"></div>
<div style="top:361.20px;height:20px;line-height:20px;font-size:10.6px;color:#222;white-space:pre;left:-60.80px;width:300px;text-align:center;letter-spacing:0.25px;-webkit-text-stroke:0.3px #222;">Libraries</div>
<svg style="position:absolute;left:0;top:0;overflow:visible" width="1" height="1"><rect x="5.80" y="384.80" width="168.40" height="19.50" fill="#d9d9d9" stroke="#b3b3b3" stroke-width="1"/></svg>
<div style="top:385.40px;height:20px;line-height:20px;font-size:12.4px;color:#111;white-space:pre;letter-spacing:0.017px;left:10.60px;-webkit-text-stroke:0.2px #111;">All Libraries</div>
<div style="top:414.10px;height:20px;line-height:20px;font-size:10.7px;color:#1e1e1e;white-space:pre;letter-spacing:0.231px;left:25.60px;-webkit-text-stroke:0.24px #1e1e1e;">Default &gt; Common</div>
<div style="left:26.00px;top:452.10px;width:27.80px;height:19.40px;background:#fff;border:1px solid #9c9c9c;"></div>
<div style="left:107.90px;top:452.10px;width:28.00px;height:19.40px;background:#efefef;"></div>
<div style="top:478.00px;height:20px;line-height:20px;font-size:10.7px;color:#1e1e1e;white-space:pre;letter-spacing:-0.112px;left:26.90px;-webkit-text-stroke:0.24px #1e1e1e;">Box 1</div>
<div style="top:478.00px;height:20px;line-height:20px;font-size:10.7px;color:#1e1e1e;white-space:pre;letter-spacing:0.008px;left:109.00px;-webkit-text-stroke:0.24px #1e1e1e;">Box 2</div>
<div style="left:26.30px;top:525.00px;width:27.30px;height:19.50px;background:#d4d4d4;"></div>
<div style="top:551.30px;height:20px;line-height:20px;font-size:10.7px;color:#1e1e1e;white-space:pre;letter-spacing:-0.012px;left:26.80px;-webkit-text-stroke:0.24px #1e1e1e;">Box 3</div>
<div style="top:551.30px;height:20px;line-height:20px;font-size:10.7px;color:#1e1e1e;white-space:pre;letter-spacing:0.126px;left:106.90px;-webkit-text-stroke:0.24px #1e1e1e;">Ellipse</div>
<div style="left:165.60px;top:411.00px;width:14.40px;height:213.60px;background:#fafafa;border-left:1px solid #ebebeb;"></div>
<div style="left:169.40px;top:414.40px;width:7.80px;height:17.20px;background:#c1c1c1;border-radius:4px;"></div>
<div style="left:0.00px;top:624.00px;width:180.00px;height:1.00px;background:#d3d3d3;"></div>
<div style="left:0.00px;top:624.60px;width:180.00px;height:24.50px;background:#d3d3d3;"></div>
<div style="top:626.80px;height:20px;line-height:20px;font-size:10.6px;color:#222;white-space:pre;left:-84.20px;width:300px;text-align:center;letter-spacing:0.2px;-webkit-text-stroke:0.3px #222;">Masters</div>
<div style="left:0.00px;top:649.10px;width:180.00px;height:151.00px;background:#fff;"></div>
<div style="left:0;top:649.1px;width:165.4px;height:151px;overflow:hidden;">
<div style="top:-0.60px;height:20px;line-height:20px;font-size:10.7px;color:#1e1e1e;white-space:pre;letter-spacing:0.155px;left:42.20px;-webkit-text-stroke:0.24px #1e1e1e;">Tooltip-Order Count Down</div>
<div style="top:20.10px;height:20px;line-height:20px;font-size:10.7px;color:#1e1e1e;white-space:pre;letter-spacing:0.182px;left:42.20px;-webkit-text-stroke:0.24px #1e1e1e;">Part Recommend Item</div>
<div style="top:40.80px;height:20px;line-height:20px;font-size:10.7px;color:#1e1e1e;white-space:pre;letter-spacing:0.280px;left:42.20px;-webkit-text-stroke:0.24px #1e1e1e;">Customers Also Bought</div>
<div style="top:61.50px;height:20px;line-height:20px;font-size:10.7px;color:#1e1e1e;white-space:pre;letter-spacing:0.486px;left:42.20px;-webkit-text-stroke:0.24px #1e1e1e;">New-Header-1200px</div>
<div style="top:82.20px;height:20px;line-height:20px;font-size:10.7px;color:#1e1e1e;white-space:pre;letter-spacing:0.226px;left:42.20px;-webkit-text-stroke:0.24px #1e1e1e;">Packaging Label+Tooltip</div>
<div style="top:102.90px;height:20px;line-height:20px;font-size:10.7px;color:#1e1e1e;white-space:pre;letter-spacing:0.132px;left:42.20px;-webkit-text-stroke:0.24px #1e1e1e;">Popular Search</div>
<div style="top:123.60px;height:20px;line-height:20px;font-size:10.7px;color:#1e1e1e;white-space:pre;letter-spacing:0.214px;left:42.20px;-webkit-text-stroke:0.24px #1e1e1e;">Datasheet link</div>
<div style="top:144.30px;height:20px;line-height:20px;font-size:10.7px;color:#1e1e1e;white-space:pre;letter-spacing:0.166px;left:42.20px;-webkit-text-stroke:0.24px #1e1e1e;">Flag Comment Login</div>
</div>
<div style="left:165.60px;top:649.10px;width:14.40px;height:151.00px;background:#fafafa;border-left:1px solid #ebebeb;"></div>
<div style="left:169.50px;top:652.60px;width:7.50px;height:63.20px;background:#c1c1c1;border-radius:4px;"></div>
<div style="left:1290.00px;top:117.50px;width:133.00px;height:1.00px;background:#b6b6b6;"></div>
<div style="left:1290.00px;top:118.40px;width:81.00px;height:25.80px;background:#d9d9d9;"></div>
<div style="left:1371.00px;top:118.40px;width:52.00px;height:25.80px;background:#d3d3d3;border-left:1px solid #e4e4e4;"></div>
<div style="top:122.50px;height:20px;line-height:20px;font-size:10.4px;color:#222;white-space:pre;letter-spacing:-0.215px;left:1297.90px;-webkit-text-stroke:0.3px #222;">PROPERTIES</div>
<div style="top:122.50px;height:20px;line-height:20px;font-size:10.4px;color:#222;white-space:pre;left:1393.70px;letter-spacing:0.75px;-webkit-text-stroke:0.3px #222;">NOTES</div>
<div style="left:1290px;top:144.2px;width:118.2px;height:331.8px;overflow:hidden;background:#f2f2f2;">
<div style="left:0.00px;top:0.00px;width:118.20px;height:38.20px;background:#fff;"></div>
<div style="left:0.00px;top:37.70px;width:118.20px;height:1.00px;background:#d8d8d8;"></div>
<div style="left:0.00px;top:73.60px;width:118.20px;height:1.00px;background:#d8d8d8;"></div>
<div style="left:0.00px;top:108.70px;width:118.20px;height:1.00px;background:#d8d8d8;"></div>
<div style="left:0.00px;top:215.50px;width:118.20px;height:1.00px;background:#d8d8d8;"></div>
<div style="top:9.10px;height:20px;line-height:20px;font-size:16.2px;color:#111;white-space:pre;letter-spacing:0.482px;left:9.20px;-webkit-text-stroke:0.25px #111;">Default</div>
<div style="top:46.10px;height:20px;line-height:20px;font-size:10.6px;color:#222;white-space:pre;letter-spacing:0.282px;left:10.90px;-webkit-text-stroke:0.18px #222;">Page Alignment</div>
<div style="top:81.40px;height:20px;line-height:20px;font-size:10.6px;color:#222;white-space:pre;letter-spacing:0.266px;left:10.80px;-webkit-text-stroke:0.18px #222;">Back Color</div>
<div style="top:117.00px;height:20px;line-height:20px;font-size:10.6px;color:#222;white-space:pre;letter-spacing:0.183px;left:10.80px;-webkit-text-stroke:0.18px #222;">Back Image</div>
<div style="top:223.70px;height:20px;line-height:20px;font-size:10.6px;color:#222;white-space:pre;letter-spacing:0.360px;left:10.80px;-webkit-text-stroke:0.18px #222;">Sketch Effects</div>
<div style="left:96.00px;top:117.30px;width:40.00px;height:36.00px;background:#fff;border:1px solid #cdcdcd;"></div>
<div style="left:96.00px;top:160.80px;width:22.00px;height:19.20px;background:#d3ebf8;border:1.5px solid #41aae6;"></div>
<div style="left:96.00px;top:188.30px;width:40.00px;height:20.00px;background:#f8f8f8;border:1px solid #c9c9c9;"></div>
<div style="top:189.30px;height:20px;line-height:20px;font-size:10.7px;color:#111;white-space:pre;left:104.00px;letter-spacing:-0.45px;-webkit-text-stroke:0.2px #111;">Repeat</div>
<div style="left:96.00px;top:226.20px;width:40.00px;height:20.00px;background:#fff;border:1px solid #c9c9c9;"></div>
<div style="top:226.80px;height:20px;line-height:20px;font-size:10.9px;color:#111;white-space:pre;left:99.60px;-webkit-text-stroke:0.2px #111;">0</div>
<div style="left:96.00px;top:255.40px;width:22.00px;height:19.20px;background:#d3ebf8;border:1.5px solid #41aae6;"></div>
<div style="left:96.00px;top:283.50px;width:40.00px;height:20.00px;background:#fdfdfd;border:1px solid #c9c9c9;"></div>
<div style="top:284.20px;height:20px;line-height:20px;font-size:10.6px;color:#111;white-space:pre;left:99.50px;letter-spacing:-0.1px;-webkit-text-stroke:0.2px #111;">Applied</div>
<div style="left:96.00px;top:311.10px;width:22.00px;height:19.20px;background:#d3ebf8;border:1.5px solid #41aae6;"></div>
<div style="top:310.80px;height:20px;line-height:20px;font-size:10.6px;color:#8a8a8a;white-space:pre;letter-spacing:-0.743px;left:101.60px;-webkit-text-stroke:0.3px #8a8a8a;">+0</div>
</div>
<div style="left:1408.20px;top:144.20px;width:14.80px;height:331.80px;background:#fafafa;border-left:1px solid #ebebeb;"></div>
<div style="left:1413.00px;top:148.00px;width:6.90px;height:324.00px;background:#c1c1c1;border-radius:3.5px;"></div>
<div style="left:1290.00px;top:476.00px;width:133.00px;height:14.40px;background:#fafafa;border-top:1px solid #ebebeb;"></div>
<div style="left:1293.30px;top:479.60px;width:59.00px;height:7.50px;background:#c1c1c1;border-radius:4px;"></div>
<div style="left:1290.00px;top:490.40px;width:133.00px;height:25.60px;background:#d3d3d3;"></div>
<div style="top:493.70px;height:20px;line-height:20px;font-size:10.6px;color:#222;white-space:pre;letter-spacing:0.245px;left:1325.90px;-webkit-text-stroke:0.3px #222;">Outline</div>
<div style="left:1290.00px;top:516.00px;width:118.20px;height:284.00px;background:#f2f2f2;"></div>
<div style="top:515.20px;height:20px;line-height:20px;font-size:10.8px;color:#111;white-space:pre;letter-spacing:0.148px;font-weight:bold;left:1313.90px;">Page Order</div>
<div style="top:535.80px;height:20px;line-height:20px;font-size:10.5px;color:#222;white-space:pre;letter-spacing:0.257px;left:1332.20px;-webkit-text-stroke:0.18px #222;">(Rectangle)</div>
<div style="top:556.56px;height:20px;line-height:20px;font-size:10.5px;color:#222;white-space:pre;letter-spacing:0.257px;left:1332.20px;-webkit-text-stroke:0.18px #222;">(Rectangle)</div>
<div style="top:577.32px;height:20px;line-height:20px;font-size:10.5px;color:#222;white-space:pre;letter-spacing:0.257px;left:1332.20px;-webkit-text-stroke:0.18px #222;">(Rectangle)</div>
<div style="top:598.08px;height:20px;line-height:20px;font-size:10.5px;color:#222;white-space:pre;letter-spacing:0.257px;left:1332.20px;-webkit-text-stroke:0.18px #222;">(Rectangle)</div>
<div style="top:618.84px;height:20px;line-height:20px;font-size:10.5px;color:#222;white-space:pre;letter-spacing:0.257px;left:1332.20px;-webkit-text-stroke:0.18px #222;">(Rectangle)</div>
<div style="top:639.60px;height:20px;line-height:20px;font-size:10.5px;color:#222;white-space:pre;letter-spacing:0.257px;left:1332.20px;-webkit-text-stroke:0.18px #222;">(Rectangle)</div>
<div style="top:660.36px;height:20px;line-height:20px;font-size:10.5px;color:#222;white-space:pre;letter-spacing:0.257px;left:1332.20px;-webkit-text-stroke:0.18px #222;">(Rectangle)</div>
<div style="top:681.12px;height:20px;line-height:20px;font-size:10.5px;color:#222;white-space:pre;letter-spacing:0.257px;left:1332.20px;-webkit-text-stroke:0.18px #222;">(Rectangle)</div>
<div style="top:701.88px;height:20px;line-height:20px;font-size:10.5px;color:#222;white-space:pre;letter-spacing:0.257px;left:1332.20px;-webkit-text-stroke:0.18px #222;">(Rectangle)</div>
<div style="top:722.64px;height:20px;line-height:20px;font-size:10.5px;color:#222;white-space:pre;letter-spacing:0.257px;left:1332.20px;-webkit-text-stroke:0.18px #222;">(Rectangle)</div>
<div style="top:743.40px;height:20px;line-height:20px;font-size:10.5px;color:#222;white-space:pre;letter-spacing:0.257px;left:1332.20px;-webkit-text-stroke:0.18px #222;">(Rectangle)</div>
<div style="top:764.16px;height:20px;line-height:20px;font-size:10.5px;color:#222;white-space:pre;letter-spacing:0.257px;left:1332.20px;-webkit-text-stroke:0.18px #222;">(Rectangle)</div>
<div style="top:784.92px;height:20px;line-height:20px;font-size:10.5px;color:#222;white-space:pre;letter-spacing:0.257px;left:1332.20px;-webkit-text-stroke:0.18px #222;">(Rectangle)</div>
<div style="top:805.68px;height:20px;line-height:20px;font-size:10.5px;color:#222;white-space:pre;letter-spacing:0.257px;left:1332.20px;-webkit-text-stroke:0.18px #222;">(Rectangle)</div>
<div style="left:1408.20px;top:516.00px;width:14.80px;height:284.00px;background:#fafafa;border-left:1px solid #ebebeb;"></div>
<div style="left:1413.00px;top:519.40px;width:6.90px;height:107.00px;background:#c1c1c1;border-radius:3.5px;"></div>
<div style="left:1289.00px;top:93.00px;width:1.00px;height:24.50px;background:#c4c4c4;"></div>
<div style="left:1289.00px;top:117.50px;width:1.00px;height:682.50px;background:#b4b4b4;"></div>
</div>
<svg id="ov" width="1423" height="800" viewBox="0 0 1423 800">
<rect x="195.85" y="118" width="1.1" height="14.6" fill="#a6a6a6"/>
<rect x="205.73" y="128.3" width="1.1" height="4.2" fill="#a6a6a6"/>
<rect x="215.61" y="128.3" width="1.1" height="4.2" fill="#a6a6a6"/>
<rect x="225.50" y="128.3" width="1.1" height="4.2" fill="#a6a6a6"/>
<rect x="235.38" y="128.3" width="1.1" height="4.2" fill="#a6a6a6"/>
<rect x="245.26" y="123.8" width="1.1" height="8.7" fill="#a6a6a6"/>
<rect x="255.14" y="128.3" width="1.1" height="4.2" fill="#a6a6a6"/>
<rect x="265.02" y="128.3" width="1.1" height="4.2" fill="#a6a6a6"/>
<rect x="274.91" y="128.3" width="1.1" height="4.2" fill="#a6a6a6"/>
<rect x="284.79" y="128.3" width="1.1" height="4.2" fill="#a6a6a6"/>
<rect x="294.67" y="118" width="1.1" height="14.6" fill="#a6a6a6"/>
<rect x="304.55" y="128.3" width="1.1" height="4.2" fill="#a6a6a6"/>
<rect x="314.43" y="128.3" width="1.1" height="4.2" fill="#a6a6a6"/>
<rect x="324.32" y="128.3" width="1.1" height="4.2" fill="#a6a6a6"/>
<rect x="334.20" y="128.3" width="1.1" height="4.2" fill="#a6a6a6"/>
<rect x="344.08" y="123.8" width="1.1" height="8.7" fill="#a6a6a6"/>
<rect x="353.96" y="128.3" width="1.1" height="4.2" fill="#a6a6a6"/>
<rect x="363.84" y="128.3" width="1.1" height="4.2" fill="#a6a6a6"/>
<rect x="373.73" y="128.3" width="1.1" height="4.2" fill="#a6a6a6"/>
<rect x="383.61" y="128.3" width="1.1" height="4.2" fill="#a6a6a6"/>
<rect x="393.49" y="118" width="1.1" height="14.6" fill="#a6a6a6"/>
<rect x="403.37" y="128.3" width="1.1" height="4.2" fill="#a6a6a6"/>
<rect x="413.25" y="128.3" width="1.1" height="4.2" fill="#a6a6a6"/>
<rect x="423.14" y="128.3" width="1.1" height="4.2" fill="#a6a6a6"/>
<rect x="433.02" y="128.3" width="1.1" height="4.2" fill="#a6a6a6"/>
<rect x="442.90" y="123.8" width="1.1" height="8.7" fill="#a6a6a6"/>
<rect x="452.78" y="128.3" width="1.1" height="4.2" fill="#a6a6a6"/>
<rect x="462.66" y="128.3" width="1.1" height="4.2" fill="#a6a6a6"/>
<rect x="472.55" y="128.3" width="1.1" height="4.2" fill="#a6a6a6"/>
<rect x="482.43" y="128.3" width="1.1" height="4.2" fill="#a6a6a6"/>
<rect x="492.31" y="118" width="1.1" height="14.6" fill="#a6a6a6"/>
<rect x="502.19" y="128.3" width="1.1" height="4.2" fill="#a6a6a6"/>
<rect x="512.07" y="128.3" width="1.1" height="4.2" fill="#a6a6a6"/>
<rect x="521.96" y="128.3" width="1.1" height="4.2" fill="#a6a6a6"/>
<rect x="531.84" y="128.3" width="1.1" height="4.2" fill="#a6a6a6"/>
<rect x="541.72" y="123.8" width="1.1" height="8.7" fill="#a6a6a6"/>
<rect x="551.60" y="128.3" width="1.1" height="4.2" fill="#a6a6a6"/>
<rect x="561.48" y="128.3" width="1.1" height="4.2" fill="#a6a6a6"/>
<rect x="571.37" y="128.3" width="1.1" height="4.2" fill="#a6a6a6"/>
<rect x="581.25" y="128.3" width="1.1" height="4.2" fill="#a6a6a6"/>
<rect x="591.13" y="118" width="1.1" height="14.6" fill="#a6a6a6"/>
<rect x="601.01" y="128.3" width="1.1" height="4.2" fill="#a6a6a6"/>
<rect x="610.89" y="128.3" width="1.1" height="4.2" fill="#a6a6a6"/>
<rect x="620.78" y="128.3" width="1.1" height="4.2" fill="#a6a6a6"/>
<rect x="630.66" y="128.3" width="1.1" height="4.2" fill="#a6a6a6"/>
<rect x="640.54" y="123.8" width="1.1" height="8.7" fill="#a6a6a6"/>
<rect x="650.42" y="128.3" width="1.1" height="4.2" fill="#a6a6a6"/>
<rect x="660.30" y="128.3" width="1.1" height="4.2" fill="#a6a6a6"/>
<rect x="670.19" y="128.3" width="1.1" height="4.2" fill="#a6a6a6"/>
<rect x="680.07" y="128.3" width="1.1" height="4.2" fill="#a6a6a6"/>
<rect x="689.95" y="118" width="1.1" height="14.6" fill="#a6a6a6"/>
<rect x="699.83" y="128.3" width="1.1" height="4.2" fill="#a6a6a6"/>
<rect x="709.71" y="128.3" width="1.1" height="4.2" fill="#a6a6a6"/>
<rect x="719.60" y="128.3" width="1.1" height="4.2" fill="#a6a6a6"/>
<rect x="729.48" y="128.3" width="1.1" height="4.2" fill="#a6a6a6"/>
<rect x="739.36" y="123.8" width="1.1" height="8.7" fill="#a6a6a6"/>
<rect x="749.24" y="128.3" width="1.1" height="4.2" fill="#a6a6a6"/>
<rect x="759.12" y="128.3" width="1.1" height="4.2" fill="#a6a6a6"/>
<rect x="769.01" y="128.3" width="1.1" height="4.2" fill="#a6a6a6"/>
<rect x="778.89" y="128.3" width="1.1" height="4.2" fill="#a6a6a6"/>
<rect x="788.77" y="118" width="1.1" height="14.6" fill="#a6a6a6"/>
<rect x="798.65" y="128.3" width="1.1" height="4.2" fill="#a6a6a6"/>
<rect x="808.53" y="128.3" width="1.1" height="4.2" fill="#a6a6a6"/>
<rect x="818.42" y="128.3" width="1.1" height="4.2" fill="#a6a6a6"/>
<rect x="828.30" y="128.3" width="1.1" height="4.2" fill="#a6a6a6"/>
<rect x="838.18" y="123.8" width="1.1" height="8.7" fill="#a6a6a6"/>
<rect x="848.06" y="128.3" width="1.1" height="4.2" fill="#a6a6a6"/>
<rect x="857.94" y="128.3" width="1.1" height="4.2" fill="#a6a6a6"/>
<rect x="867.83" y="128.3" width="1.1" height="4.2" fill="#a6a6a6"/>
<rect x="877.71" y="128.3" width="1.1" height="4.2" fill="#a6a6a6"/>
<rect x="887.59" y="118" width="1.1" height="14.6" fill="#a6a6a6"/>
<rect x="897.47" y="128.3" width="1.1" height="4.2" fill="#a6a6a6"/>
<rect x="907.35" y="128.3" width="1.1" height="4.2" fill="#a6a6a6"/>
<rect x="917.24" y="128.3" width="1.1" height="4.2" fill="#a6a6a6"/>
<rect x="927.12" y="128.3" width="1.1" height="4.2" fill="#a6a6a6"/>
<rect x="937.00" y="123.8" width="1.1" height="8.7" fill="#a6a6a6"/>
<rect x="946.88" y="128.3" width="1.1" height="4.2" fill="#a6a6a6"/>
<rect x="956.76" y="128.3" width="1.1" height="4.2" fill="#a6a6a6"/>
<rect x="966.65" y="128.3" width="1.1" height="4.2" fill="#a6a6a6"/>
<rect x="976.53" y="128.3" width="1.1" height="4.2" fill="#a6a6a6"/>
<rect x="986.41" y="118" width="1.1" height="14.6" fill="#a6a6a6"/>
<rect x="996.29" y="128.3" width="1.1" height="4.2" fill="#a6a6a6"/>
<rect x="1006.17" y="128.3" width="1.1" height="4.2" fill="#a6a6a6"/>
<rect x="1016.06" y="128.3" width="1.1" height="4.2" fill="#a6a6a6"/>
<rect x="1025.94" y="128.3" width="1.1" height="4.2" fill="#a6a6a6"/>
<rect x="1035.82" y="123.8" width="1.1" height="8.7" fill="#a6a6a6"/>
<rect x="1045.70" y="128.3" width="1.1" height="4.2" fill="#a6a6a6"/>
<rect x="1055.58" y="128.3" width="1.1" height="4.2" fill="#a6a6a6"/>
<rect x="1065.47" y="128.3" width="1.1" height="4.2" fill="#a6a6a6"/>
<rect x="1075.35" y="128.3" width="1.1" height="4.2" fill="#a6a6a6"/>
<rect x="1085.23" y="118" width="1.1" height="14.6" fill="#a6a6a6"/>
<rect x="1095.11" y="128.3" width="1.1" height="4.2" fill="#a6a6a6"/>
<rect x="1104.99" y="128.3" width="1.1" height="4.2" fill="#a6a6a6"/>
<rect x="1114.88" y="128.3" width="1.1" height="4.2" fill="#a6a6a6"/>
<rect x="1124.76" y="128.3" width="1.1" height="4.2" fill="#a6a6a6"/>
<rect x="1134.64" y="123.8" width="1.1" height="8.7" fill="#a6a6a6"/>
<rect x="1144.52" y="128.3" width="1.1" height="4.2" fill="#a6a6a6"/>
<rect x="1154.40" y="128.3" width="1.1" height="4.2" fill="#a6a6a6"/>
<rect x="1164.29" y="128.3" width="1.1" height="4.2" fill="#a6a6a6"/>
<rect x="1174.17" y="128.3" width="1.1" height="4.2" fill="#a6a6a6"/>
<rect x="1184.05" y="118" width="1.1" height="14.6" fill="#a6a6a6"/>
<rect x="1193.93" y="128.3" width="1.1" height="4.2" fill="#a6a6a6"/>
<rect x="1203.81" y="128.3" width="1.1" height="4.2" fill="#a6a6a6"/>
<rect x="1213.70" y="128.3" width="1.1" height="4.2" fill="#a6a6a6"/>
<rect x="1223.58" y="128.3" width="1.1" height="4.2" fill="#a6a6a6"/>
<rect x="1233.46" y="123.8" width="1.1" height="8.7" fill="#a6a6a6"/>
<rect x="1243.34" y="128.3" width="1.1" height="4.2" fill="#a6a6a6"/>
<rect x="1253.22" y="128.3" width="1.1" height="4.2" fill="#a6a6a6"/>
<rect x="1263.11" y="128.3" width="1.1" height="4.2" fill="#a6a6a6"/>
<rect x="1272.99" y="128.3" width="1.1" height="4.2" fill="#a6a6a6"/>
<rect x="1282.87" y="118" width="1.1" height="14.6" fill="#a6a6a6"/>
<rect x="191.2" y="136.53" width="4.2" height="1.1" fill="#a6a6a6"/>
<rect x="191.2" y="146.41" width="4.2" height="1.1" fill="#a6a6a6"/>
<rect x="191.2" y="156.30" width="4.2" height="1.1" fill="#a6a6a6"/>
<rect x="191.2" y="166.18" width="4.2" height="1.1" fill="#a6a6a6"/>
<rect x="186.7" y="176.06" width="8.6" height="1.1" fill="#a6a6a6"/>
<rect x="191.2" y="185.94" width="4.2" height="1.1" fill="#a6a6a6"/>
<rect x="191.2" y="195.82" width="4.2" height="1.1" fill="#a6a6a6"/>
<rect x="191.2" y="205.71" width="4.2" height="1.1" fill="#a6a6a6"/>
<rect x="191.2" y="215.59" width="4.2" height="1.1" fill="#a6a6a6"/>
<rect x="181" y="225.47" width="14.5" height="1.1" fill="#a6a6a6"/>
<rect x="191.2" y="235.35" width="4.2" height="1.1" fill="#a6a6a6"/>
<rect x="191.2" y="245.23" width="4.2" height="1.1" fill="#a6a6a6"/>
<rect x="191.2" y="255.12" width="4.2" height="1.1" fill="#a6a6a6"/>
<rect x="191.2" y="265.00" width="4.2" height="1.1" fill="#a6a6a6"/>
<rect x="186.7" y="274.88" width="8.6" height="1.1" fill="#a6a6a6"/>
<rect x="191.2" y="284.76" width="4.2" height="1.1" fill="#a6a6a6"/>
<rect x="191.2" y="294.64" width="4.2" height="1.1" fill="#a6a6a6"/>
<rect x="191.2" y="304.53" width="4.2" height="1.1" fill="#a6a6a6"/>
<rect x="191.2" y="314.41" width="4.2" height="1.1" fill="#a6a6a6"/>
<rect x="181" y="324.29" width="14.5" height="1.1" fill="#a6a6a6"/>
<rect x="191.2" y="334.17" width="4.2" height="1.1" fill="#a6a6a6"/>
<rect x="191.2" y="344.05" width="4.2" height="1.1" fill="#a6a6a6"/>
<rect x="191.2" y="353.94" width="4.2" height="1.1" fill="#a6a6a6"/>
<rect x="191.2" y="363.82" width="4.2" height="1.1" fill="#a6a6a6"/>
<rect x="186.7" y="373.70" width="8.6" height="1.1" fill="#a6a6a6"/>
<rect x="191.2" y="383.58" width="4.2" height="1.1" fill="#a6a6a6"/>
<rect x="191.2" y="393.46" width="4.2" height="1.1" fill="#a6a6a6"/>
<rect x="191.2" y="403.35" width="4.2" height="1.1" fill="#a6a6a6"/>
<rect x="191.2" y="413.23" width="4.2" height="1.1" fill="#a6a6a6"/>
<rect x="181" y="423.11" width="14.5" height="1.1" fill="#a6a6a6"/>
<rect x="191.2" y="432.99" width="4.2" height="1.1" fill="#a6a6a6"/>
<rect x="191.2" y="442.87" width="4.2" height="1.1" fill="#a6a6a6"/>
<rect x="191.2" y="452.76" width="4.2" height="1.1" fill="#a6a6a6"/>
<rect x="191.2" y="462.64" width="4.2" height="1.1" fill="#a6a6a6"/>
<rect x="186.7" y="472.52" width="8.6" height="1.1" fill="#a6a6a6"/>
<rect x="191.2" y="482.40" width="4.2" height="1.1" fill="#a6a6a6"/>
<rect x="191.2" y="492.28" width="4.2" height="1.1" fill="#a6a6a6"/>
<rect x="191.2" y="502.17" width="4.2" height="1.1" fill="#a6a6a6"/>
<rect x="191.2" y="512.05" width="4.2" height="1.1" fill="#a6a6a6"/>
<rect x="181" y="521.93" width="14.5" height="1.1" fill="#a6a6a6"/>
<rect x="191.2" y="531.81" width="4.2" height="1.1" fill="#a6a6a6"/>
<rect x="191.2" y="541.69" width="4.2" height="1.1" fill="#a6a6a6"/>
<rect x="191.2" y="551.58" width="4.2" height="1.1" fill="#a6a6a6"/>
<rect x="191.2" y="561.46" width="4.2" height="1.1" fill="#a6a6a6"/>
<rect x="186.7" y="571.34" width="8.6" height="1.1" fill="#a6a6a6"/>
<rect x="191.2" y="581.22" width="4.2" height="1.1" fill="#a6a6a6"/>
<rect x="191.2" y="591.10" width="4.2" height="1.1" fill="#a6a6a6"/>
<rect x="191.2" y="600.99" width="4.2" height="1.1" fill="#a6a6a6"/>
<rect x="191.2" y="610.87" width="4.2" height="1.1" fill="#a6a6a6"/>
<rect x="181" y="620.75" width="14.5" height="1.1" fill="#a6a6a6"/>
<rect x="191.2" y="630.63" width="4.2" height="1.1" fill="#a6a6a6"/>
<rect x="191.2" y="640.51" width="4.2" height="1.1" fill="#a6a6a6"/>
<rect x="191.2" y="650.40" width="4.2" height="1.1" fill="#a6a6a6"/>
<rect x="191.2" y="660.28" width="4.2" height="1.1" fill="#a6a6a6"/>
<rect x="186.7" y="670.16" width="8.6" height="1.1" fill="#a6a6a6"/>
<rect x="191.2" y="680.04" width="4.2" height="1.1" fill="#a6a6a6"/>
<rect x="191.2" y="689.92" width="4.2" height="1.1" fill="#a6a6a6"/>
<rect x="191.2" y="699.81" width="4.2" height="1.1" fill="#a6a6a6"/>
<rect x="191.2" y="709.69" width="4.2" height="1.1" fill="#a6a6a6"/>
<rect x="181" y="719.57" width="14.5" height="1.1" fill="#a6a6a6"/>
<rect x="191.2" y="729.45" width="4.2" height="1.1" fill="#a6a6a6"/>
<rect x="191.2" y="739.33" width="4.2" height="1.1" fill="#a6a6a6"/>
<rect x="191.2" y="749.22" width="4.2" height="1.1" fill="#a6a6a6"/>
<rect x="191.2" y="759.10" width="4.2" height="1.1" fill="#a6a6a6"/>
<rect x="186.7" y="768.98" width="8.6" height="1.1" fill="#a6a6a6"/>
<rect x="191.2" y="778.86" width="4.2" height="1.1" fill="#a6a6a6"/>
<rect x="191.2" y="788.74" width="4.2" height="1.1" fill="#a6a6a6"/>
<rect x="191.2" y="798.63" width="4.2" height="1.1" fill="#a6a6a6"/>
<rect x="16.8" y="17" width="6.2" height="15.7" fill="#6a6a6a"/>
<rect x="24.2" y="17" width="8.6" height="15.7" fill="#808080"/>
<g transform="translate(26.0 26.9)"><path d="M0 0 L-5.7 2.5 L-4.3 3.5 L-9.3 8.5 L-8.5 9.3 L-3.5 4.3 L-2.5 5.7 Z" fill="#5c5c5c" stroke="#e6e6e6" stroke-width="1.5" stroke-linejoin="round"/><path d="M0 0 L-5.7 2.5 L-4.3 3.5 L-9.3 8.5 L-8.5 9.3 L-3.5 4.3 L-2.5 5.7 Z" fill="#5c5c5c" stroke="#5c5c5c" stroke-width="0.5" stroke-linejoin="round"/></g>
<rect x="51.6" y="17.8" width="13.7" height="14.1" fill="none" stroke="#7a7a7a" stroke-width="1.7"/>
<rect x="54.7" y="21" width="7.9" height="7.7" fill="#29a3dc"/>
<g transform="translate(57.3 27.3)"><path d="M0 0 L-5.7 2.5 L-4.3 3.5 L-9.3 8.5 L-8.5 9.3 L-3.5 4.3 L-2.5 5.7 Z" fill="#5c5c5c" stroke="#e6e6e6" stroke-width="1.5" stroke-linejoin="round"/><path d="M0 0 L-5.7 2.5 L-4.3 3.5 L-9.3 8.5 L-8.5 9.3 L-3.5 4.3 L-2.5 5.7 Z" fill="#5c5c5c" stroke="#5c5c5c" stroke-width="0.5" stroke-linejoin="round"/></g>
<path d="M15.5 41.3 V46.3 H22.6" fill="none" stroke="#555" stroke-width="0.9"/>
<path d="M61.8 46.3 H69.2 V41.3" fill="none" stroke="#555" stroke-width="0.9"/>
<rect x="99.2" y="17" width="12.8" height="5.7" fill="#6e6e6e"/>
<rect x="93" y="30" width="13" height="5.8" fill="#1f9bde"/>
<path d="M105.4 22.7 V26.5 H99.8 V30" fill="none" stroke="#7a7a7a" stroke-width="1"/>
<g transform="translate(148.6 22.4) rotate(28.3)"><rect x="-4.4" y="-5.3" width="8.8" height="2.6" rx="0.7" fill="#5c5c5c"/><path d="M-3.3 0 H3.3 L4.4 4.6 L0 12.6 L-4.4 4.6 Z" fill="#dde6ec" stroke="#2ba3e6" stroke-width="1.4" stroke-linejoin="round"/><circle cx="0.2" cy="4.3" r="1.6" fill="#e6eef3" stroke="#2ba3e6" stroke-width="1.1"/><path d="M0 6 V11.6" stroke="#2ba3e6" stroke-width="1.1"/></g>
<circle cx="179.4" cy="24.4" r="2.5" fill="#7f7f7f"/>
<circle cx="187" cy="24.4" r="2.5" fill="#7f7f7f"/>
<circle cx="194.4" cy="24.4" r="2.5" fill="#7f7f7f"/>
<path d="M199.6 42.3 L204.6 42.3 L202.1 47 Z" fill="#555"/>
<rect x="218.7" y="18" width="1" height="21" fill="#c3c3c3"/>
<path d="M279.2 26 L286.4 26 L282.79999999999995 29.8 Z" fill="#666"/>
<rect x="304.7" y="18" width="1" height="21" fill="#c3c3c3"/>
<rect x="331" y="24" width="12.4" height="11.6" fill="#cdcdcd"/>
<rect x="327" y="20" width="12.4" height="11.8" fill="#c9c9c9"/>
<rect x="323" y="16" width="12.5" height="11.9" fill="#a8cbde"/>
<rect x="371" y="24" width="12.4" height="11.8" fill="#a8cbde"/>
<rect x="367" y="20" width="12.4" height="11.8" fill="#cecece"/>
<rect x="362.8" y="16" width="12" height="12" fill="#c8c8c8"/>
<rect x="403.1" y="18" width="1" height="21" fill="#c3c3c3"/>
<rect x="430.3" y="22.6" width="9.1" height="8.2" fill="#cecece"/>
<rect x="427.1" y="18.8" width="9.5" height="8.8" fill="#b3d3e1"/>
<rect x="423.8" y="16.2" width="18.4" height="17.6" fill="none" stroke="#c3c3c3" stroke-width="1"/>
<circle cx="423.8" cy="16.2" r="1.5" fill="#c1c1c1"/>
<circle cx="442.2" cy="16.2" r="1.5" fill="#c1c1c1"/>
<circle cx="423.8" cy="33.8" r="1.5" fill="#c1c1c1"/>
<circle cx="442.2" cy="33.8" r="1.5" fill="#c1c1c1"/>
<rect x="468.5" y="14" width="11.8" height="12.4" fill="#b9d5e1"/>
<rect x="476.1" y="22.9" width="12.7" height="12.3" fill="#cccccc"/>
<circle cx="468.5" cy="14" r="1.2" fill="#c6c6c6"/>
<circle cx="480.3" cy="14" r="1.2" fill="#c6c6c6"/>
<circle cx="468.5" cy="26.4" r="1.2" fill="#c6c6c6"/>
<circle cx="488.8" cy="22.9" r="1.2" fill="#c6c6c6"/>
<circle cx="476.1" cy="35.2" r="1.2" fill="#c6c6c6"/>
<circle cx="488.8" cy="35.2" r="1.2" fill="#c6c6c6"/>
<rect x="513.0" y="18" width="1" height="21" fill="#c3c3c3"/>
<rect x="532" y="15.2" width="2.6" height="19.4" fill="#8f8f8f"/>
<rect x="536.7" y="17" width="7" height="5" fill="#1f9bde"/>
<rect x="536.7" y="27" width="16" height="5" fill="#1f9bde"/>
<path d="M554.2 42 L559.3 42 L556.75 46.8 Z" fill="#555"/>
<rect x="574.1" y="18" width="1" height="21" fill="#c3c3c3"/>
<rect x="603" y="15.6" width="2.7" height="19.4" fill="#8f8f8f"/>
<rect x="622.2" y="15.6" width="2.7" height="19.4" fill="#8f8f8f"/>
<rect x="611" y="19" width="5.8" height="14" fill="#1f9bde"/>
<path d="M636.2 42 L641.4 42 L638.8 46.8 Z" fill="#555"/>
<rect x="655.3" y="18" width="1" height="21" fill="#c3c3c3"/>
<path d="M680.4 22 V20.9 A4.6 4.6 0 0 1 689.6 20.9 V22" fill="none" stroke="#cacaca" stroke-width="2.2"/>
<rect x="676" y="21.7" width="18" height="9.8" fill="#c9c9c9"/>
<rect x="676" y="31.7" width="18" height="3.5" fill="#a9d0e0"/>
<path d="M728.7 22 V20.9 A4.6 4.6 0 0 1 737.9 20.9 V23.4" fill="none" stroke="#cacaca" stroke-width="2.2"/>
<rect x="714.7" y="21.7" width="18.1" height="9.8" fill="#c9c9c9"/>
<rect x="714.7" y="31.7" width="18.1" height="3.5" fill="#a9d0e0"/>
<rect x="757.2" y="18" width="1" height="21" fill="#c3c3c3"/>
<rect x="776.9" y="15.9" width="6.1" height="20" fill="#1f9bde"/>
<rect x="784" y="15.9" width="14" height="20" fill="#909090"/>
<rect x="816.6" y="15.9" width="13.4" height="20" fill="#909090"/>
<rect x="831" y="15.9" width="6.3" height="20" fill="#1f9bde"/>
<rect x="1187.9" y="17" width="19" height="18.8" fill="#4aae9f"/>
<path d="M1195 22 L1200.8 26.3 L1195 30.6 Z" fill="#fff"/>
<path d="M1233.4 36 H1247.6 A5.9 5.9 0 0 0 1249.4 24.6 A7.6 7.6 0 0 0 1235 21.6 A7.3 7.3 0 0 0 1233.4 36 Z" fill="#1f9bde"/>
<path d="M1240.5 33.4 V25.2 M1236.8 28.4 L1240.5 24.6 L1244.2 28.4" fill="none" stroke="#fff" stroke-width="1.7" stroke-linecap="round" stroke-linejoin="round"/>
<rect x="1275" y="17" width="19.8" height="3" fill="#dd19b8"/>
<rect x="1275" y="21.3" width="19.8" height="14.5" fill="#8f8f8f"/>
<path d="M1284.9 24 V32 M1281.4 29 L1284.9 32.6 L1288.4 29" fill="none" stroke="#fff" stroke-width="1.6" stroke-linecap="round" stroke-linejoin="round"/>
<path d="M1301 42 L1306.2 42 L1303.6 46.8 Z" fill="#555"/>
<rect x="1320.2" y="18" width="1" height="20.5" fill="#c3c3c3"/>
<circle cx="1344.6" cy="24.2" r="2.9" fill="#757575"/>
<path d="M1338.8 33 V31.2 A3 3 0 0 1 1341.8 28.4 H1347.4 A3 3 0 0 1 1350.4 31.2 V33 Z" fill="#757575"/>
<path d="M146 76.6 L152.6 76.6 L149.3 79.9 Z" fill="#a2a2a2"/>
<path d="M166.6 72.3 H172.6 L175.6 75.2 V83.2 H166.6 Z" fill="#fbfbfb" stroke="#4a4a4a" stroke-width="1" stroke-linejoin="round"/>
<path d="M172.4 72.5 V75.4 H175.4" fill="none" stroke="#4a4a4a" stroke-width="0.8"/>
<rect x="168" y="75.5" width="5.8" height="1" fill="#3ea6e2"/>
<rect x="168" y="77.4" width="5.8" height="1" fill="#3ea6e2"/>
<rect x="168" y="79.3" width="5.8" height="1" fill="#3ea6e2"/>
<rect x="168" y="81.2" width="5.8" height="1" fill="#3ea6e2"/>
<path d="M173.6 83 L179.6 74.4" stroke="#3c3c3c" stroke-width="1.6" stroke-linecap="round"/>
<rect x="189.1" y="67.7" width="1" height="18.599999999999994" fill="#bfbfbf"/>
<path d="M287 76.6 L293.7 76.6 L290.35 79.9 Z" fill="#a2a2a2"/>
<path d="M384.5 76.6 L391.2 76.6 L387.85 79.9 Z" fill="#a2a2a2"/>
<path d="M427 76.6 L433.6 76.6 L430.3 79.9 Z" fill="#a2a2a2"/>
<rect x="496" y="82.2" width="7.6" height="1" fill="#b9b9b9"/>
<rect x="524.2" y="80.5" width="12" height="2.2" fill="#a3a3a3"/>
<path d="M544.4 76.6 L551 76.6 L547.7 79.9 Z" fill="#a2a2a2"/>
<rect x="570" y="73.6" width="9.4" height="0.9" fill="#c0c0c0"/>
<rect x="567" y="73.39999999999999" width="1.4" height="1.3" fill="#b5d4e2"/>
<rect x="570" y="79.8" width="9.4" height="0.9" fill="#c0c0c0"/>
<rect x="567" y="79.6" width="1.4" height="1.3" fill="#b5d4e2"/>
<rect x="592.7" y="67.7" width="1" height="18.599999999999994" fill="#bfbfbf"/>
<rect x="608.3" y="72.2" width="8.6" height="0.9" fill="#bebebe"/>
<rect x="608.3" y="77" width="6" height="0.9" fill="#bebebe"/>
<rect x="608.3" y="81.8" width="11" height="0.9" fill="#bebebe"/>
<rect x="632.0" y="72.2" width="8.4" height="0.9" fill="#b3c9d4"/>
<rect x="633.4" y="77" width="5.6" height="0.9" fill="#b3c9d4"/>
<rect x="630.8" y="81.8" width="10.8" height="0.9" fill="#b3c9d4"/>
<rect x="654.2" y="72.2" width="8.6" height="0.9" fill="#bebebe"/>
<rect x="656.8000000000001" y="77" width="6" height="0.9" fill="#bebebe"/>
<rect x="651.6" y="81.8" width="11.2" height="0.9" fill="#bebebe"/>
<rect x="682" y="72.2" width="10.4" height="0.9" fill="#bebebe"/>
<rect x="682" y="75.8" width="10.4" height="0.9" fill="#bebebe"/>
<rect x="704" y="74.4" width="10.4" height="0.9" fill="#aec4cf"/>
<rect x="704" y="79.2" width="10.4" height="0.9" fill="#aec4cf"/>
<rect x="725.6" y="78" width="10.4" height="0.9" fill="#bebebe"/>
<rect x="725.6" y="81.8" width="10.4" height="0.9" fill="#bebebe"/>
<rect x="749.8" y="67.7" width="1" height="18.599999999999994" fill="#bfbfbf"/>
<rect x="766.5" y="71.8" width="11.4" height="11" fill="#a9c7d6"/>
<path d="M786 76.6 L792.8 76.6 L789.4 79.9 Z" fill="#a2a2a2"/>
<rect x="811.6" y="72.6" width="10.6" height="10.2" rx="1.2" fill="#c9c9c9"/>
<rect x="810.4" y="71.4" width="9.8" height="9.6" rx="1" fill="#d6d6d6"/>
<path d="M830.2 76.6 L837 76.6 L833.6 79.9 Z" fill="#a2a2a2"/>
<rect x="850.3" y="67.7" width="1" height="18.599999999999994" fill="#bfbfbf"/>
<path d="M868.8 79.4 L875.6 72.4" stroke="#c0c0c0" stroke-width="2"/>
<rect x="866.2" y="80.6" width="11.8" height="2.2" fill="#bfbfbf"/>
<path d="M886 76.6 L892.7 76.6 L889.35 79.9 Z" fill="#a2a2a2"/>
<rect x="910.6" y="71.6" width="11.6" height="3.2" fill="#bdbdbd"/>
<rect x="910.6" y="76.6" width="11.6" height="2.2" fill="#bdbdbd"/>
<rect x="910.6" y="81.2" width="11.6" height="1" fill="#bdbdbd"/>
<path d="M930.4 76.6 L937 76.6 L933.7 79.9 Z" fill="#a2a2a2"/>
<path d="M955 72.6 H966.4" stroke="#bdbdbd" stroke-width="1" stroke-dasharray="1.6 2.6"/>
<path d="M955 77.2 H966.4" stroke="#bdbdbd" stroke-width="1" stroke-dasharray="1.2 1.4"/>
<rect x="955" y="81.2" width="11.4" height="1.2" fill="#bdbdbd"/>
<path d="M974.8 76.6 L981.6 76.6 L978.2 79.9 Z" fill="#a2a2a2"/>
<rect x="999.6" y="72.2" width="11" height="0.9" fill="#bebebe"/>
<rect x="999.6" y="76.8" width="11" height="0.9" fill="#bebebe"/>
<rect x="999.6" y="81.4" width="11" height="0.9" fill="#bebebe"/>
<path d="M1009 75.4 L1011 76.8 L1009 78.4 M1009 80 L1011 81.4 L1009 83" fill="none" stroke="#bdbdbd" stroke-width="0.8"/>
<path d="M1019.4 76.6 L1026.2 76.6 L1022.8 79.9 Z" fill="#a2a2a2"/>
<rect x="1038.9" y="67.7" width="1" height="18.599999999999994" fill="#bfbfbf"/>
<path d="M1205 74.2 H1201.8 V80.8 H1205 M1209 74.2 H1212.3 V80.8 H1209" fill="none" stroke="#4a4a4a" stroke-width="1.8"/>
<path d="M259.4 102.60000000000001 L264.6 107.8 M264.6 102.60000000000001 L259.4 107.8" stroke="#9a9a9a" stroke-width="1.7" stroke-linecap="butt"/>
<path d="M349.7 102.60000000000001 L354.90000000000003 107.8 M354.90000000000003 102.60000000000001 L349.7 107.8" stroke="#a6a6a6" stroke-width="1.7" stroke-linecap="butt"/>
<path d="M526.8 102.60000000000001 L532.0 107.8 M532.0 102.60000000000001 L526.8 107.8" stroke="#a6a6a6" stroke-width="1.7" stroke-linecap="butt"/>
<path d="M823.6999999999999 102.60000000000001 L828.9 107.8 M828.9 102.60000000000001 L823.6999999999999 107.8" stroke="#a6a6a6" stroke-width="1.7" stroke-linecap="butt"/>
<path d="M1094.2 102.60000000000001 L1099.3999999999999 107.8 M1099.3999999999999 102.60000000000001 L1094.2 107.8" stroke="#a6a6a6" stroke-width="1.7" stroke-linecap="butt"/>
<path d="M1253.6000000000001 102.60000000000001 L1258.8 107.8 M1258.8 102.60000000000001 L1253.6000000000001 107.8" stroke="#a6a6a6" stroke-width="1.7" stroke-linecap="butt"/>
<path d="M1274.2 104.2 L1283 104.2 L1278.6 108.6 Z" fill="#6c6c6c"/>
<path d="M10.9 106.80000000000001 V102.30000000000001 H15.4 M11.2 102.60000000000001 L16.8 108.4" fill="none" stroke="#b9b9b9" stroke-width="1.8"/>
<path d="M114.8 102.8 V99.8 H121.39999999999999 L124.6 103.0 V111.2 H114.8 V110.39999999999999" fill="none" stroke="#616161" stroke-width="1"/>
<path d="M121.2 100.0 V103.2 H124.39999999999999" fill="none" stroke="#616161" stroke-width="0.8"/>
<path d="M113.0 106.6 H119.2 M116.1 103.6 V109.7" stroke="#616161" stroke-width="1.8"/>
<path d="M136.3 111.3 V100.8 H140.8 L142.20000000000002 102.60000000000001 H149.20000000000002 V111.3 Z" fill="none" stroke="#616161" stroke-width="1"/>
<path d="M136.3 100.4 H141.0 L142.4 102.4 H136.3 Z" fill="#616161"/>
<path d="M139.70000000000002 106.8 H145.9 M142.8 103.8 V109.9" stroke="#616161" stroke-width="1.8"/>
<circle cx="163.7" cy="103.9" r="3.8" fill="none" stroke="#616161" stroke-width="1.75"/>
<path d="M166.79999999999998 107.10000000000001 L170.0 110.4" stroke="#616161" stroke-width="2" stroke-linecap="butt"/>
<path d="M1300.1000000000001 106.60000000000001 V102.10000000000001 H1304.6000000000001 M1300.4 102.4 L1306.0 108.2" fill="none" stroke="#b9b9b9" stroke-width="1.8"/>
<path d="M21 121.89999999999999 H26.6 L28.4 124.3 H33.6 V125.89999999999999 H21 Z" fill="#666"/>
<path d="M21.2 125.3 H34.8 L34 132.7 H21.2 Z" fill="#1f9bde"/>
<path d="M5.9 124.1 H13.8 L9.850000000000001 130.7 Z" fill="#8c8c8c"/>
<path d="M42.6 143.56 H47.900000000000006 L50.5 146.26 V153.26 Q50.5 153.66 50.1 153.66 H42.6 Q42.2 153.66 42.2 153.26 V143.96 Q42.2 143.56 42.6 143.56 Z" fill="#fff" stroke="#757575" stroke-width="1.05"/>
<path d="M47.7 143.76 V146.46 H50.300000000000004" fill="none" stroke="#757575" stroke-width="0.9"/>
<path d="M42.6 164.32 H47.900000000000006 L50.5 167.01999999999998 V174.01999999999998 Q50.5 174.42 50.1 174.42 H42.6 Q42.2 174.42 42.2 174.01999999999998 V164.72 Q42.2 164.32 42.6 164.32 Z" fill="#fff" stroke="#757575" stroke-width="1.05"/>
<path d="M47.7 164.51999999999998 V167.22 H50.300000000000004" fill="none" stroke="#757575" stroke-width="0.9"/>
<path d="M24.3 165.82 H32.2 L28.25 172.42 Z" fill="#8c8c8c"/>
<path d="M60.199999999999996 185.07999999999998 H65.5 L68.1 187.77999999999997 V194.77999999999997 Q68.1 195.17999999999998 67.7 195.17999999999998 H60.199999999999996 Q59.8 195.17999999999998 59.8 194.77999999999997 V185.48 Q59.8 185.07999999999998 60.199999999999996 185.07999999999998 Z" fill="#fff" stroke="#757575" stroke-width="1.05"/>
<path d="M65.3 185.27999999999997 V187.98 H67.89999999999999" fill="none" stroke="#757575" stroke-width="0.9"/>
<path d="M60.199999999999996 205.84 H65.5 L68.1 208.54 V215.54 Q68.1 215.94 67.7 215.94 H60.199999999999996 Q59.8 215.94 59.8 215.54 V206.24 Q59.8 205.84 60.199999999999996 205.84 Z" fill="#fff" stroke="#757575" stroke-width="1.05"/>
<path d="M65.3 206.04 V208.74 H67.89999999999999" fill="none" stroke="#757575" stroke-width="0.9"/>
<path d="M42.6 226.60000000000002 H47.900000000000006 L50.5 229.3 V236.3 Q50.5 236.70000000000002 50.1 236.70000000000002 H42.6 Q42.2 236.70000000000002 42.2 236.3 V227.00000000000003 Q42.2 226.60000000000002 42.6 226.60000000000002 Z" fill="#fff" stroke="#757575" stroke-width="1.05"/>
<path d="M47.7 226.8 V229.50000000000003 H50.300000000000004" fill="none" stroke="#757575" stroke-width="0.9"/>
<path d="M42.6 247.36 H47.900000000000006 L50.5 250.06 V257.06 Q50.5 257.46000000000004 50.1 257.46000000000004 H42.6 Q42.2 257.46000000000004 42.2 257.06 V247.76000000000002 Q42.2 247.36 42.6 247.36 Z" fill="#fff" stroke="#757575" stroke-width="1.05"/>
<path d="M47.7 247.56 V250.26000000000002 H50.300000000000004" fill="none" stroke="#757575" stroke-width="0.9"/>
<path d="M42.6 268.12 H47.900000000000006 L50.5 270.82 V277.82 Q50.5 278.22 50.1 278.22 H42.6 Q42.2 278.22 42.2 277.82 V268.52 Q42.2 268.12 42.6 268.12 Z" fill="#fff" stroke="#757575" stroke-width="1.05"/>
<path d="M47.7 268.32 V271.02 H50.300000000000004" fill="none" stroke="#757575" stroke-width="0.9"/>
<path d="M21 287.98 H26.6 L28.4 290.38 H33.6 V291.98 H21 Z" fill="#666"/>
<path d="M21.2 291.38 H34.8 L34 298.78000000000003 H21.2 Z" fill="#1f9bde"/>
<path d="M5.9 290.18 H13.8 L9.850000000000001 296.78000000000003 Z" fill="#8c8c8c"/>
<path d="M42.6 309.64 H47.900000000000006 L50.5 312.34 V319.34 Q50.5 319.74 50.1 319.74 H42.6 Q42.2 319.74 42.2 319.34 V310.03999999999996 Q42.2 309.64 42.6 309.64 Z" fill="#fff" stroke="#757575" stroke-width="1.05"/>
<path d="M47.7 309.84 V312.53999999999996 H50.300000000000004" fill="none" stroke="#757575" stroke-width="0.9"/>
<path d="M42.6 330.40000000000003 H47.900000000000006 L50.5 333.1 V340.1 Q50.5 340.50000000000006 50.1 340.50000000000006 H42.6 Q42.2 340.50000000000006 42.2 340.1 V330.8 Q42.2 330.40000000000003 42.6 330.40000000000003 Z" fill="#fff" stroke="#757575" stroke-width="1.05"/>
<path d="M47.7 330.6 V333.3 H50.300000000000004" fill="none" stroke="#757575" stroke-width="0.9"/>
<path d="M10.9 372.29999999999995 V367.79999999999995 H15.4 M11.2 368.09999999999997 L16.8 373.9" fill="none" stroke="#b9b9b9" stroke-width="1.8"/>
<rect x="136.6" y="365.7" width="9.8" height="1.7" fill="#616161"/>
<rect x="136.6" y="369.9" width="9.8" height="1.7" fill="#616161"/>
<rect x="136.6" y="374.09999999999997" width="9.8" height="1.7" fill="#616161"/>
<circle cx="163.8" cy="369.6" r="3.8" fill="none" stroke="#616161" stroke-width="1.75"/>
<path d="M166.9 372.8 L170.10000000000002 376.1" stroke="#616161" stroke-width="2" stroke-linecap="butt"/>
<path d="M163.4 394.6 L170.8 394.6 L167.10000000000002 398.5 Z" fill="#111"/>
<path d="M9.9 422.9 L13.6 426.7 L17.4 422.9" fill="none" stroke="#555" stroke-width="1.4"/>
<circle cx="121.8" cy="534.6" r="12" fill="#fff" stroke="#7e7e7e" stroke-width="1"/>
<rect x="26.7" y="594.8" width="26.6" height="26" fill="#fff" stroke="#cacaca" stroke-width="1.2"/>
<circle cx="43" cy="601.6" r="3.6" fill="#c9c9c9"/>
<path d="M27.4 609 L34.6 603.8 L44.6 610.4 L52.6 604.8 V616.2 H27.4 Z" fill="#129bd8"/>
<rect x="27" y="616.2" width="26" height="4.6" fill="#d2d2d2"/>
<rect x="108.6" y="598.8" width="26.8" height="18.6" fill="#fff" stroke="#9a9a9a" stroke-width="0.9"/>
<path d="M108.6 598.8 L135.4 617.4 M135.4 598.8 L108.6 617.4" stroke="#9a9a9a" stroke-width="0.8"/>
<path d="M10.9 638.4 V633.9 H15.4 M11.2 634.2 L16.8 640.0" fill="none" stroke="#b9b9b9" stroke-width="1.8"/>
<path d="M114.8 634.4 V631.4 H121.39999999999999 L124.6 634.6 V642.8 H114.8 V642.0" fill="none" stroke="#616161" stroke-width="1"/>
<path d="M121.2 631.6 V634.8 H124.39999999999999" fill="none" stroke="#616161" stroke-width="0.8"/>
<path d="M113.0 638.1999999999999 H119.2 M116.1 635.1999999999999 V641.3" stroke="#616161" stroke-width="1.8"/>
<path d="M136.3 642.9 V632.4 H140.8 L142.20000000000002 634.1999999999999 H149.20000000000002 V642.9 Z" fill="none" stroke="#616161" stroke-width="1"/>
<path d="M136.3 632.0 H141.0 L142.4 634.0 H136.3 Z" fill="#616161"/>
<path d="M139.70000000000002 638.4 H145.9 M142.8 635.4 V641.5" stroke="#616161" stroke-width="1.8"/>
<circle cx="163.8" cy="635.6" r="3.8" fill="none" stroke="#616161" stroke-width="1.75"/>
<path d="M166.9 638.8000000000001 L170.10000000000002 642.1" stroke="#616161" stroke-width="2" stroke-linecap="butt"/>
<path d="M22.85 654.9499999999999 H30.9 L33.35 657.3 V662.85 H22.85 Z" fill="#fff" stroke="#6b6b6b" stroke-width="1.1" stroke-linejoin="round"/>
<path d="M24.0 656.1999999999999 H30.5 L32.1 657.6999999999999 V660.8 H24.0 Z" fill="#ee82dc"/>
<path d="M22.85 675.65 H30.9 L33.35 678.0 V683.5500000000001 H22.85 Z" fill="#fff" stroke="#6b6b6b" stroke-width="1.1" stroke-linejoin="round"/>
<path d="M24.0 676.9 H30.5 L32.1 678.4 V681.5 H24.0 Z" fill="#ee82dc"/>
<path d="M22.85 696.3499999999999 H30.9 L33.35 698.6999999999999 V704.25 H22.85 Z" fill="#fff" stroke="#6b6b6b" stroke-width="1.1" stroke-linejoin="round"/>
<path d="M24.0 697.5999999999999 H30.5 L32.1 699.0999999999999 V702.1999999999999 H24.0 Z" fill="#ee82dc"/>
<path d="M22.85 717.05 H30.9 L33.35 719.4 V724.95 H22.85 Z" fill="#fff" stroke="#6b6b6b" stroke-width="1.1" stroke-linejoin="round"/>
<path d="M24.0 718.3 H30.5 L32.1 719.8 V722.9 H24.0 Z" fill="#ee82dc"/>
<path d="M22.85 737.7499999999999 H30.9 L33.35 740.0999999999999 V745.65 H22.85 Z" fill="#fff" stroke="#6b6b6b" stroke-width="1.1" stroke-linejoin="round"/>
<path d="M24.0 738.9999999999999 H30.5 L32.1 740.4999999999999 V743.5999999999999 H24.0 Z" fill="#ee82dc"/>
<path d="M22.85 758.4499999999999 H30.9 L33.35 760.8 V766.35 H22.85 Z" fill="#fff" stroke="#6b6b6b" stroke-width="1.1" stroke-linejoin="round"/>
<path d="M24.0 759.6999999999999 H30.5 L32.1 761.1999999999999 V764.3 H24.0 Z" fill="#ee82dc"/>
<path d="M22.85 779.15 H30.9 L33.35 781.5 V787.0500000000001 H22.85 Z" fill="#fff" stroke="#6b6b6b" stroke-width="1.1" stroke-linejoin="round"/>
<path d="M24.0 780.4 H30.5 L32.1 781.9 V785.0 H24.0 Z" fill="#ee82dc"/>
<path d="M22.85 799.8499999999999 H30.9 L33.35 802.1999999999999 V807.75 H22.85 Z" fill="#fff" stroke="#6b6b6b" stroke-width="1.1" stroke-linejoin="round"/>
<path d="M24.0 801.0999999999999 H30.5 L32.1 802.5999999999999 V805.6999999999999 H24.0 Z" fill="#ee82dc"/>
<rect x="1391.3" y="308.8" width="10.8" height="11" fill="#e4e4e4" stroke="#8d8d8d" stroke-width="1"/>
<rect x="1392.4" y="312" width="4.2" height="5" fill="#1f9bde"/>
<path d="M1390.9 415 V410 L1394.2 407.8 L1398.6 411 L1402.5 408.4 V415 Z" fill="#1f9bde"/>
<circle cx="1398.7" cy="406" r="1.8" fill="#6fd21d"/>
<path d="M1300.1000000000001 505.0 V500.5 H1304.6000000000001 M1300.4 500.8 L1306.0 506.6" fill="none" stroke="#b9b9b9" stroke-width="1.8"/>
<path d="M1380.2 499.1 H1391.8 L1385.7 504.5 Z" fill="none" stroke="#5f5f5f" stroke-width="1.7" stroke-linejoin="round"/>
<path d="M1385.7 503.6 V509.7" stroke="#5f5f5f" stroke-width="1.8"/>
<path d="M1390.3 505.6 V509.6" stroke="#5f5f5f" stroke-width="1"/>
<path d="M1388 505.9 H1392.5 L1390.3 503 Z" fill="#5f5f5f"/>
<circle cx="1407.3" cy="502.2" r="3.8" fill="none" stroke="#616161" stroke-width="1.75"/>
<path d="M1410.3999999999999 505.4 L1413.6 508.7" stroke="#616161" stroke-width="2" stroke-linecap="butt"/>
<path d="M1296.9 520.9 H1302.2 L1304.8 523.6 V530.6 Q1304.8 531.0 1304.4 531.0 H1296.9 Q1296.5 531.0 1296.5 530.6 V521.3 Q1296.5 520.9 1296.9 520.9 Z" fill="#fff" stroke="#757575" stroke-width="1.05"/>
<path d="M1302 521.1 V523.8 H1304.6" fill="none" stroke="#757575" stroke-width="0.9"/>
<rect x="1309.9" y="544.10" width="15" height="4.4" rx="0.4" fill="#fff" stroke="#686868" stroke-width="1.1"/>
<rect x="1309.9" y="564.86" width="15" height="4.4" rx="0.4" fill="#fff" stroke="#686868" stroke-width="1.1"/>
<rect x="1309.9" y="585.62" width="15" height="4.4" rx="0.4" fill="#fff" stroke="#686868" stroke-width="1.1"/>
<rect x="1309.9" y="606.38" width="15" height="4.4" rx="0.4" fill="#fff" stroke="#686868" stroke-width="1.1"/>
<rect x="1309.9" y="627.14" width="15" height="4.4" rx="0.4" fill="#fff" stroke="#686868" stroke-width="1.1"/>
<rect x="1309.9" y="647.90" width="15" height="4.4" rx="0.4" fill="#fff" stroke="#686868" stroke-width="1.1"/>
<rect x="1309.9" y="668.66" width="15" height="4.4" rx="0.4" fill="#fff" stroke="#686868" stroke-width="1.1"/>
<rect x="1309.9" y="689.42" width="15" height="4.4" rx="0.4" fill="#fff" stroke="#686868" stroke-width="1.1"/>
<rect x="1309.9" y="710.18" width="15" height="4.4" rx="0.4" fill="#fff" stroke="#686868" stroke-width="1.1"/>
<rect x="1309.9" y="730.94" width="15" height="4.4" rx="0.4" fill="#fff" stroke="#686868" stroke-width="1.1"/>
<rect x="1309.9" y="751.70" width="15" height="4.4" rx="0.4" fill="#fff" stroke="#686868" stroke-width="1.1"/>
<rect x="1309.9" y="772.46" width="15" height="4.4" rx="0.4" fill="#fff" stroke="#686868" stroke-width="1.1"/>
<rect x="1309.9" y="793.22" width="15" height="4.4" rx="0.4" fill="#fff" stroke="#686868" stroke-width="1.1"/>
<rect x="1309.9" y="813.98" width="15" height="4.4" rx="0.4" fill="#fff" stroke="#686868" stroke-width="1.1"/>
</svg>
</body></html>
